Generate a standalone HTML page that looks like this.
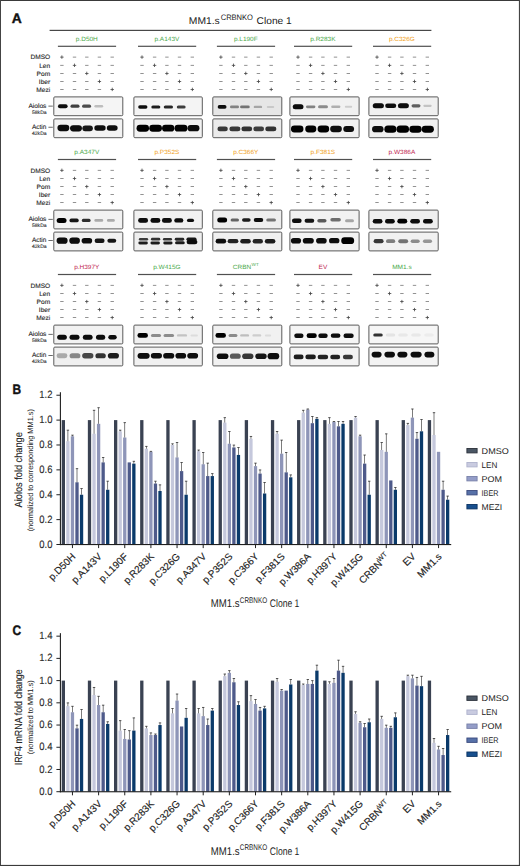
<!DOCTYPE html>
<html><head><meta charset="utf-8"><title>Figure</title>
<style>
html,body{margin:0;padding:0;background:#fff;}
body{width:520px;height:866px;overflow:hidden;}
svg{display:block;}
text{font-family:"Liberation Sans", sans-serif;text-rendering:geometricPrecision;}
</style></head><body>
<svg width="520" height="866" viewBox="0 0 520 866">
<rect x="0" y="0" width="520" height="866" fill="#fff"/>
<text x="11.8" y="23.1" font-size="13.8" font-weight="bold" textLength="10.0" lengthAdjust="spacingAndGlyphs" fill="#111" stroke="#111" stroke-width="0.4">A</text>
<text x="188.8" y="23.9" font-size="9.8" fill="#222" textLength="31" lengthAdjust="spacingAndGlyphs">MM1.s</text>
<text x="220.7" y="20.3" font-size="7.9" fill="#222" textLength="32.3" lengthAdjust="spacingAndGlyphs">CRBNKO</text>
<text x="256.6" y="23.9" font-size="9.8" fill="#222" textLength="35.2" lengthAdjust="spacingAndGlyphs">Clone 1</text>
<rect x="49.6" y="29.8" width="381.8" height="1.2" fill="#484848"/>
<defs><filter id="bl" x="-30%" y="-60%" width="160%" height="220%"><feGaussianBlur stdDeviation="0.55"/></filter></defs>
<text x="50.2" y="59.4" font-size="6.3" fill="#2a2a2a" stroke="#2a2a2a" stroke-width="0.12" text-anchor="end" textLength="19.8" lengthAdjust="spacingAndGlyphs">DMSO</text>
<text x="50.2" y="67.6" font-size="6.3" fill="#2a2a2a" stroke="#2a2a2a" stroke-width="0.12" text-anchor="end" textLength="11.0" lengthAdjust="spacingAndGlyphs">Len</text>
<text x="50.2" y="75.7" font-size="6.3" fill="#2a2a2a" stroke="#2a2a2a" stroke-width="0.12" text-anchor="end" textLength="13.6" lengthAdjust="spacingAndGlyphs">Pom</text>
<text x="50.2" y="83.7" font-size="6.3" fill="#2a2a2a" stroke="#2a2a2a" stroke-width="0.12" text-anchor="end" textLength="11.4" lengthAdjust="spacingAndGlyphs">Iber</text>
<text x="50.2" y="91.7" font-size="6.3" fill="#2a2a2a" stroke="#2a2a2a" stroke-width="0.12" text-anchor="end" textLength="13.9" lengthAdjust="spacingAndGlyphs">Mezi</text>
<text x="46.4" y="107.8" font-size="6.6" fill="#222" stroke="#222" stroke-width="0.1" text-anchor="end" textLength="18" lengthAdjust="spacingAndGlyphs">Aiolos</text>
<text x="46.6" y="113.9" font-size="5.1" fill="#2a2a2a" stroke="#2a2a2a" stroke-width="0.1" text-anchor="end" textLength="14.6" lengthAdjust="spacingAndGlyphs">58kDa</text>
<text x="46.4" y="128.6" font-size="6.6" fill="#222" stroke="#222" stroke-width="0.1" text-anchor="end" textLength="14.4" lengthAdjust="spacingAndGlyphs">Actin</text>
<text x="46.6" y="135.0" font-size="5.1" fill="#2a2a2a" stroke="#2a2a2a" stroke-width="0.1" text-anchor="end" textLength="14.6" lengthAdjust="spacingAndGlyphs">42kDa</text>
<rect x="48.4" y="105.7" width="4.4" height="0.8" fill="#444"/>
<rect x="48.4" y="126.8" width="4.4" height="0.8" fill="#444"/>
<text x="86.8" y="41.0" font-size="6.1" fill="#4aa84a" text-anchor="middle" textLength="22.0" lengthAdjust="spacingAndGlyphs">p.D50H</text>
<rect x="57.9" y="45.7" width="58.2" height="1.2" fill="#505050"/>
<rect x="60.2" y="56.7" width="3.4" height="0.8" fill="#444"/><rect x="61.5" y="55.4" width="0.8" height="3.4" fill="#444"/>
<rect x="72.8" y="56.7" width="3.4" height="0.8" fill="#777"/>
<rect x="85.1" y="56.7" width="3.4" height="0.8" fill="#777"/>
<rect x="97.7" y="56.7" width="3.4" height="0.8" fill="#777"/>
<rect x="110.5" y="56.7" width="3.4" height="0.8" fill="#777"/>
<rect x="60.2" y="64.9" width="3.4" height="0.8" fill="#777"/>
<rect x="72.8" y="64.9" width="3.4" height="0.8" fill="#444"/><rect x="74.1" y="63.6" width="0.8" height="3.4" fill="#444"/>
<rect x="85.1" y="64.9" width="3.4" height="0.8" fill="#777"/>
<rect x="97.7" y="64.9" width="3.4" height="0.8" fill="#777"/>
<rect x="110.5" y="64.9" width="3.4" height="0.8" fill="#777"/>
<rect x="60.2" y="73.0" width="3.4" height="0.8" fill="#777"/>
<rect x="72.8" y="73.0" width="3.4" height="0.8" fill="#777"/>
<rect x="85.1" y="73.0" width="3.4" height="0.8" fill="#444"/><rect x="86.4" y="71.7" width="0.8" height="3.4" fill="#444"/>
<rect x="97.7" y="73.0" width="3.4" height="0.8" fill="#777"/>
<rect x="110.5" y="73.0" width="3.4" height="0.8" fill="#777"/>
<rect x="60.2" y="81.0" width="3.4" height="0.8" fill="#777"/>
<rect x="72.8" y="81.0" width="3.4" height="0.8" fill="#777"/>
<rect x="85.1" y="81.0" width="3.4" height="0.8" fill="#777"/>
<rect x="97.7" y="81.0" width="3.4" height="0.8" fill="#444"/><rect x="99.0" y="79.7" width="0.8" height="3.4" fill="#444"/>
<rect x="110.5" y="81.0" width="3.4" height="0.8" fill="#777"/>
<rect x="60.2" y="89.0" width="3.4" height="0.8" fill="#777"/>
<rect x="72.8" y="89.0" width="3.4" height="0.8" fill="#777"/>
<rect x="85.1" y="89.0" width="3.4" height="0.8" fill="#777"/>
<rect x="97.7" y="89.0" width="3.4" height="0.8" fill="#777"/>
<rect x="110.5" y="89.0" width="3.4" height="0.8" fill="#444"/><rect x="111.8" y="87.7" width="0.8" height="3.4" fill="#444"/>
<rect x="53.8" y="96.9" width="69.0" height="18.8" rx="1" fill="#f5f5f5" stroke="#5a5a5a" stroke-width="1"/>
<rect x="53.8" y="118.9" width="69.0" height="18.8" rx="1" fill="#f3f3f3" stroke="#5a5a5a" stroke-width="1"/>
<rect x="57.97" y="104.20" width="9.66" height="4.00" rx="2.00" fill="#0a0a0a" filter="url(#bl)"/>
<rect x="70.48" y="104.60" width="9.03" height="3.20" rx="1.60" fill="#414141" filter="url(#bl)"/>
<rect x="82.08" y="104.60" width="9.03" height="3.20" rx="1.60" fill="#4b4b4b" filter="url(#bl)"/>
<rect x="94.39" y="104.90" width="8.82" height="2.60" rx="1.30" fill="#bebebe" filter="url(#bl)"/>
<rect x="57.46" y="124.86" width="11.88" height="6.27" rx="3.14" fill="#080808" filter="url(#bl)"/>
<rect x="70.06" y="125.16" width="11.88" height="6.27" rx="3.14" fill="#080808" filter="url(#bl)"/>
<rect x="82.31" y="125.39" width="10.58" height="5.82" rx="2.91" fill="#141414" filter="url(#bl)"/>
<rect x="94.33" y="125.20" width="11.34" height="5.60" rx="2.80" fill="#0c0c0c" filter="url(#bl)"/>
<rect x="106.80" y="125.20" width="10.80" height="5.60" rx="2.80" fill="#0c0c0c" filter="url(#bl)"/>
<text x="166.9" y="41.0" font-size="6.1" fill="#4aa84a" text-anchor="middle" textLength="24.9" lengthAdjust="spacingAndGlyphs">p.A143V</text>
<rect x="138.0" y="45.7" width="58.2" height="1.2" fill="#505050"/>
<rect x="140.3" y="56.7" width="3.4" height="0.8" fill="#444"/><rect x="141.6" y="55.4" width="0.8" height="3.4" fill="#444"/>
<rect x="152.9" y="56.7" width="3.4" height="0.8" fill="#777"/>
<rect x="165.2" y="56.7" width="3.4" height="0.8" fill="#777"/>
<rect x="177.8" y="56.7" width="3.4" height="0.8" fill="#777"/>
<rect x="190.6" y="56.7" width="3.4" height="0.8" fill="#777"/>
<rect x="140.3" y="64.9" width="3.4" height="0.8" fill="#777"/>
<rect x="152.9" y="64.9" width="3.4" height="0.8" fill="#444"/><rect x="154.2" y="63.6" width="0.8" height="3.4" fill="#444"/>
<rect x="165.2" y="64.9" width="3.4" height="0.8" fill="#777"/>
<rect x="177.8" y="64.9" width="3.4" height="0.8" fill="#777"/>
<rect x="190.6" y="64.9" width="3.4" height="0.8" fill="#777"/>
<rect x="140.3" y="73.0" width="3.4" height="0.8" fill="#777"/>
<rect x="152.9" y="73.0" width="3.4" height="0.8" fill="#777"/>
<rect x="165.2" y="73.0" width="3.4" height="0.8" fill="#444"/><rect x="166.5" y="71.7" width="0.8" height="3.4" fill="#444"/>
<rect x="177.8" y="73.0" width="3.4" height="0.8" fill="#777"/>
<rect x="190.6" y="73.0" width="3.4" height="0.8" fill="#777"/>
<rect x="140.3" y="81.0" width="3.4" height="0.8" fill="#777"/>
<rect x="152.9" y="81.0" width="3.4" height="0.8" fill="#777"/>
<rect x="165.2" y="81.0" width="3.4" height="0.8" fill="#777"/>
<rect x="177.8" y="81.0" width="3.4" height="0.8" fill="#444"/><rect x="179.1" y="79.7" width="0.8" height="3.4" fill="#444"/>
<rect x="190.6" y="81.0" width="3.4" height="0.8" fill="#777"/>
<rect x="140.3" y="89.0" width="3.4" height="0.8" fill="#777"/>
<rect x="152.9" y="89.0" width="3.4" height="0.8" fill="#777"/>
<rect x="165.2" y="89.0" width="3.4" height="0.8" fill="#777"/>
<rect x="177.8" y="89.0" width="3.4" height="0.8" fill="#777"/>
<rect x="190.6" y="89.0" width="3.4" height="0.8" fill="#444"/><rect x="191.9" y="87.7" width="0.8" height="3.4" fill="#444"/>
<rect x="133.9" y="96.9" width="68.4" height="18.8" rx="1" fill="#f4f4f4" stroke="#5a5a5a" stroke-width="1"/>
<rect x="133.9" y="118.9" width="68.4" height="18.8" rx="1" fill="#f2f2f2" stroke="#5a5a5a" stroke-width="1"/>
<rect x="138.18" y="105.30" width="9.24" height="3.40" rx="1.70" fill="#0f0f0f" filter="url(#bl)"/>
<rect x="151.29" y="105.40" width="9.03" height="3.20" rx="1.60" fill="#1e1e1e" filter="url(#bl)"/>
<rect x="163.78" y="105.40" width="9.24" height="3.20" rx="1.60" fill="#282828" filter="url(#bl)"/>
<rect x="176.79" y="105.50" width="8.82" height="3.00" rx="1.50" fill="#3c3c3c" filter="url(#bl)"/>
<rect x="136.54" y="124.73" width="12.53" height="6.94" rx="3.47" fill="#050505" filter="url(#bl)"/>
<rect x="149.23" y="124.73" width="12.74" height="6.94" rx="3.47" fill="#050505" filter="url(#bl)"/>
<rect x="162.04" y="124.84" width="12.31" height="6.72" rx="3.36" fill="#050505" filter="url(#bl)"/>
<rect x="174.52" y="124.84" width="12.96" height="6.72" rx="3.36" fill="#050505" filter="url(#bl)"/>
<rect x="187.56" y="125.06" width="11.88" height="6.27" rx="3.14" fill="#080808" filter="url(#bl)"/>
<text x="245.8" y="41.0" font-size="6.1" fill="#4aa84a" text-anchor="middle" textLength="23.8" lengthAdjust="spacingAndGlyphs">p.L190F</text>
<rect x="216.9" y="45.7" width="58.2" height="1.2" fill="#505050"/>
<rect x="219.2" y="56.7" width="3.4" height="0.8" fill="#444"/><rect x="220.5" y="55.4" width="0.8" height="3.4" fill="#444"/>
<rect x="231.8" y="56.7" width="3.4" height="0.8" fill="#777"/>
<rect x="244.1" y="56.7" width="3.4" height="0.8" fill="#777"/>
<rect x="256.7" y="56.7" width="3.4" height="0.8" fill="#777"/>
<rect x="269.5" y="56.7" width="3.4" height="0.8" fill="#777"/>
<rect x="219.2" y="64.9" width="3.4" height="0.8" fill="#777"/>
<rect x="231.8" y="64.9" width="3.4" height="0.8" fill="#444"/><rect x="233.1" y="63.6" width="0.8" height="3.4" fill="#444"/>
<rect x="244.1" y="64.9" width="3.4" height="0.8" fill="#777"/>
<rect x="256.7" y="64.9" width="3.4" height="0.8" fill="#777"/>
<rect x="269.5" y="64.9" width="3.4" height="0.8" fill="#777"/>
<rect x="219.2" y="73.0" width="3.4" height="0.8" fill="#777"/>
<rect x="231.8" y="73.0" width="3.4" height="0.8" fill="#777"/>
<rect x="244.1" y="73.0" width="3.4" height="0.8" fill="#444"/><rect x="245.4" y="71.7" width="0.8" height="3.4" fill="#444"/>
<rect x="256.7" y="73.0" width="3.4" height="0.8" fill="#777"/>
<rect x="269.5" y="73.0" width="3.4" height="0.8" fill="#777"/>
<rect x="219.2" y="81.0" width="3.4" height="0.8" fill="#777"/>
<rect x="231.8" y="81.0" width="3.4" height="0.8" fill="#777"/>
<rect x="244.1" y="81.0" width="3.4" height="0.8" fill="#777"/>
<rect x="256.7" y="81.0" width="3.4" height="0.8" fill="#444"/><rect x="258.0" y="79.7" width="0.8" height="3.4" fill="#444"/>
<rect x="269.5" y="81.0" width="3.4" height="0.8" fill="#777"/>
<rect x="219.2" y="89.0" width="3.4" height="0.8" fill="#777"/>
<rect x="231.8" y="89.0" width="3.4" height="0.8" fill="#777"/>
<rect x="244.1" y="89.0" width="3.4" height="0.8" fill="#777"/>
<rect x="256.7" y="89.0" width="3.4" height="0.8" fill="#777"/>
<rect x="269.5" y="89.0" width="3.4" height="0.8" fill="#444"/><rect x="270.8" y="87.7" width="0.8" height="3.4" fill="#444"/>
<rect x="212.8" y="96.9" width="69.0" height="18.8" rx="1" fill="#e6e6e6" stroke="#5a5a5a" stroke-width="1"/>
<rect x="212.8" y="118.9" width="69.0" height="18.8" rx="1" fill="#ebebeb" stroke="#5a5a5a" stroke-width="1"/>
<rect x="217.69" y="105.10" width="8.82" height="3.60" rx="1.80" fill="#0a0a0a" filter="url(#bl)"/>
<rect x="229.99" y="105.50" width="9.03" height="2.80" rx="1.40" fill="#828282" filter="url(#bl)"/>
<rect x="240.07" y="105.50" width="9.66" height="2.80" rx="1.40" fill="#737373" filter="url(#bl)"/>
<rect x="253.70" y="105.70" width="8.40" height="2.40" rx="1.20" fill="#a5a5a5" filter="url(#bl)"/>
<rect x="266.82" y="105.90" width="7.35" height="2.00" rx="1.00" fill="#c8c8c8" filter="url(#bl)"/>
<rect x="217.42" y="126.44" width="10.37" height="4.93" rx="2.46" fill="#373737" filter="url(#bl)"/>
<rect x="229.39" y="126.44" width="11.02" height="4.93" rx="2.46" fill="#373737" filter="url(#bl)"/>
<rect x="241.40" y="126.44" width="10.80" height="4.93" rx="2.46" fill="#323232" filter="url(#bl)"/>
<rect x="253.35" y="126.55" width="10.69" height="4.70" rx="2.35" fill="#3c3c3c" filter="url(#bl)"/>
<rect x="265.24" y="126.44" width="11.12" height="4.93" rx="2.46" fill="#323232" filter="url(#bl)"/>
<text x="322.9" y="41.0" font-size="6.1" fill="#4aa84a" text-anchor="middle" textLength="25.3" lengthAdjust="spacingAndGlyphs">p.R283K</text>
<rect x="294.0" y="45.7" width="58.2" height="1.2" fill="#505050"/>
<rect x="296.3" y="56.7" width="3.4" height="0.8" fill="#444"/><rect x="297.6" y="55.4" width="0.8" height="3.4" fill="#444"/>
<rect x="308.9" y="56.7" width="3.4" height="0.8" fill="#777"/>
<rect x="321.2" y="56.7" width="3.4" height="0.8" fill="#777"/>
<rect x="333.8" y="56.7" width="3.4" height="0.8" fill="#777"/>
<rect x="346.6" y="56.7" width="3.4" height="0.8" fill="#777"/>
<rect x="296.3" y="64.9" width="3.4" height="0.8" fill="#777"/>
<rect x="308.9" y="64.9" width="3.4" height="0.8" fill="#444"/><rect x="310.2" y="63.6" width="0.8" height="3.4" fill="#444"/>
<rect x="321.2" y="64.9" width="3.4" height="0.8" fill="#777"/>
<rect x="333.8" y="64.9" width="3.4" height="0.8" fill="#777"/>
<rect x="346.6" y="64.9" width="3.4" height="0.8" fill="#777"/>
<rect x="296.3" y="73.0" width="3.4" height="0.8" fill="#777"/>
<rect x="308.9" y="73.0" width="3.4" height="0.8" fill="#777"/>
<rect x="321.2" y="73.0" width="3.4" height="0.8" fill="#444"/><rect x="322.5" y="71.7" width="0.8" height="3.4" fill="#444"/>
<rect x="333.8" y="73.0" width="3.4" height="0.8" fill="#777"/>
<rect x="346.6" y="73.0" width="3.4" height="0.8" fill="#777"/>
<rect x="296.3" y="81.0" width="3.4" height="0.8" fill="#777"/>
<rect x="308.9" y="81.0" width="3.4" height="0.8" fill="#777"/>
<rect x="321.2" y="81.0" width="3.4" height="0.8" fill="#777"/>
<rect x="333.8" y="81.0" width="3.4" height="0.8" fill="#444"/><rect x="335.1" y="79.7" width="0.8" height="3.4" fill="#444"/>
<rect x="346.6" y="81.0" width="3.4" height="0.8" fill="#777"/>
<rect x="296.3" y="89.0" width="3.4" height="0.8" fill="#777"/>
<rect x="308.9" y="89.0" width="3.4" height="0.8" fill="#777"/>
<rect x="321.2" y="89.0" width="3.4" height="0.8" fill="#777"/>
<rect x="333.8" y="89.0" width="3.4" height="0.8" fill="#777"/>
<rect x="346.6" y="89.0" width="3.4" height="0.8" fill="#444"/><rect x="347.9" y="87.7" width="0.8" height="3.4" fill="#444"/>
<rect x="289.9" y="96.9" width="69.2" height="18.8" rx="1" fill="#f1f1f1" stroke="#5a5a5a" stroke-width="1"/>
<rect x="289.9" y="118.9" width="69.2" height="18.8" rx="1" fill="#f0f0f0" stroke="#5a5a5a" stroke-width="1"/>
<rect x="292.75" y="104.30" width="10.71" height="5.00" rx="2.50" fill="#080808" filter="url(#bl)"/>
<rect x="305.97" y="105.40" width="9.45" height="2.80" rx="1.40" fill="#828282" filter="url(#bl)"/>
<rect x="318.01" y="105.30" width="9.97" height="3.00" rx="1.50" fill="#8c8c8c" filter="url(#bl)"/>
<rect x="331.18" y="105.50" width="9.24" height="2.60" rx="1.30" fill="#afafaf" filter="url(#bl)"/>
<rect x="344.82" y="105.80" width="7.35" height="2.00" rx="1.00" fill="#cdcdcd" filter="url(#bl)"/>
<rect x="290.94" y="125.53" width="12.53" height="6.94" rx="3.47" fill="#050505" filter="url(#bl)"/>
<rect x="305.24" y="125.53" width="11.12" height="6.94" rx="3.47" fill="#050505" filter="url(#bl)"/>
<rect x="317.57" y="125.53" width="11.66" height="6.94" rx="3.47" fill="#050505" filter="url(#bl)"/>
<rect x="330.17" y="125.86" width="11.66" height="6.27" rx="3.14" fill="#080808" filter="url(#bl)"/>
<rect x="343.30" y="125.98" width="10.80" height="6.05" rx="3.02" fill="#0a0a0a" filter="url(#bl)"/>
<text x="401.9" y="41.0" font-size="6.1" fill="#f0a020" text-anchor="middle" textLength="26.0" lengthAdjust="spacingAndGlyphs">p.C326G</text>
<rect x="373.0" y="45.7" width="58.2" height="1.2" fill="#505050"/>
<rect x="375.3" y="56.7" width="3.4" height="0.8" fill="#444"/><rect x="376.6" y="55.4" width="0.8" height="3.4" fill="#444"/>
<rect x="387.9" y="56.7" width="3.4" height="0.8" fill="#777"/>
<rect x="400.2" y="56.7" width="3.4" height="0.8" fill="#777"/>
<rect x="412.8" y="56.7" width="3.4" height="0.8" fill="#777"/>
<rect x="425.6" y="56.7" width="3.4" height="0.8" fill="#777"/>
<rect x="375.3" y="64.9" width="3.4" height="0.8" fill="#777"/>
<rect x="387.9" y="64.9" width="3.4" height="0.8" fill="#444"/><rect x="389.2" y="63.6" width="0.8" height="3.4" fill="#444"/>
<rect x="400.2" y="64.9" width="3.4" height="0.8" fill="#777"/>
<rect x="412.8" y="64.9" width="3.4" height="0.8" fill="#777"/>
<rect x="425.6" y="64.9" width="3.4" height="0.8" fill="#777"/>
<rect x="375.3" y="73.0" width="3.4" height="0.8" fill="#777"/>
<rect x="387.9" y="73.0" width="3.4" height="0.8" fill="#777"/>
<rect x="400.2" y="73.0" width="3.4" height="0.8" fill="#444"/><rect x="401.5" y="71.7" width="0.8" height="3.4" fill="#444"/>
<rect x="412.8" y="73.0" width="3.4" height="0.8" fill="#777"/>
<rect x="425.6" y="73.0" width="3.4" height="0.8" fill="#777"/>
<rect x="375.3" y="81.0" width="3.4" height="0.8" fill="#777"/>
<rect x="387.9" y="81.0" width="3.4" height="0.8" fill="#777"/>
<rect x="400.2" y="81.0" width="3.4" height="0.8" fill="#777"/>
<rect x="412.8" y="81.0" width="3.4" height="0.8" fill="#444"/><rect x="414.1" y="79.7" width="0.8" height="3.4" fill="#444"/>
<rect x="425.6" y="81.0" width="3.4" height="0.8" fill="#777"/>
<rect x="375.3" y="89.0" width="3.4" height="0.8" fill="#777"/>
<rect x="387.9" y="89.0" width="3.4" height="0.8" fill="#777"/>
<rect x="400.2" y="89.0" width="3.4" height="0.8" fill="#777"/>
<rect x="412.8" y="89.0" width="3.4" height="0.8" fill="#777"/>
<rect x="425.6" y="89.0" width="3.4" height="0.8" fill="#444"/><rect x="426.9" y="87.7" width="0.8" height="3.4" fill="#444"/>
<rect x="368.9" y="96.9" width="69.3" height="18.8" rx="1" fill="#f0f0f0" stroke="#5a5a5a" stroke-width="1"/>
<rect x="368.9" y="118.9" width="69.3" height="18.8" rx="1" fill="#f0f0f0" stroke="#5a5a5a" stroke-width="1"/>
<rect x="372.74" y="103.30" width="11.13" height="5.00" rx="2.50" fill="#080808" filter="url(#bl)"/>
<rect x="385.19" y="103.50" width="11.03" height="4.60" rx="2.30" fill="#0f0f0f" filter="url(#bl)"/>
<rect x="397.94" y="103.30" width="10.92" height="5.00" rx="2.50" fill="#080808" filter="url(#bl)"/>
<rect x="411.54" y="104.20" width="8.93" height="3.20" rx="1.60" fill="#5f5f5f" filter="url(#bl)"/>
<rect x="423.30" y="104.70" width="8.40" height="2.20" rx="1.10" fill="#c3c3c3" filter="url(#bl)"/>
<rect x="372.08" y="126.06" width="11.45" height="6.27" rx="3.14" fill="#080808" filter="url(#bl)"/>
<rect x="384.35" y="125.62" width="12.10" height="7.17" rx="3.58" fill="#050505" filter="url(#bl)"/>
<rect x="396.54" y="125.62" width="12.53" height="7.17" rx="3.58" fill="#050505" filter="url(#bl)"/>
<rect x="409.34" y="125.73" width="12.31" height="6.94" rx="3.47" fill="#050505" filter="url(#bl)"/>
<rect x="421.70" y="125.73" width="12.20" height="6.94" rx="3.47" fill="#050505" filter="url(#bl)"/>
<text x="50.2" y="172.6" font-size="6.3" fill="#2a2a2a" stroke="#2a2a2a" stroke-width="0.12" text-anchor="end" textLength="19.8" lengthAdjust="spacingAndGlyphs">DMSO</text>
<text x="50.2" y="180.8" font-size="6.3" fill="#2a2a2a" stroke="#2a2a2a" stroke-width="0.12" text-anchor="end" textLength="11.0" lengthAdjust="spacingAndGlyphs">Len</text>
<text x="50.2" y="188.9" font-size="6.3" fill="#2a2a2a" stroke="#2a2a2a" stroke-width="0.12" text-anchor="end" textLength="13.6" lengthAdjust="spacingAndGlyphs">Pom</text>
<text x="50.2" y="196.9" font-size="6.3" fill="#2a2a2a" stroke="#2a2a2a" stroke-width="0.12" text-anchor="end" textLength="11.4" lengthAdjust="spacingAndGlyphs">Iber</text>
<text x="50.2" y="204.9" font-size="6.3" fill="#2a2a2a" stroke="#2a2a2a" stroke-width="0.12" text-anchor="end" textLength="13.9" lengthAdjust="spacingAndGlyphs">Mezi</text>
<text x="46.4" y="221.0" font-size="6.6" fill="#222" stroke="#222" stroke-width="0.1" text-anchor="end" textLength="18" lengthAdjust="spacingAndGlyphs">Aiolos</text>
<text x="46.6" y="227.1" font-size="5.1" fill="#2a2a2a" stroke="#2a2a2a" stroke-width="0.1" text-anchor="end" textLength="14.6" lengthAdjust="spacingAndGlyphs">58kDa</text>
<text x="46.4" y="241.8" font-size="6.6" fill="#222" stroke="#222" stroke-width="0.1" text-anchor="end" textLength="14.4" lengthAdjust="spacingAndGlyphs">Actin</text>
<text x="46.6" y="248.2" font-size="5.1" fill="#2a2a2a" stroke="#2a2a2a" stroke-width="0.1" text-anchor="end" textLength="14.6" lengthAdjust="spacingAndGlyphs">42kDa</text>
<rect x="48.4" y="218.9" width="4.4" height="0.8" fill="#444"/>
<rect x="48.4" y="240.0" width="4.4" height="0.8" fill="#444"/>
<text x="86.8" y="154.2" font-size="6.1" fill="#4aa84a" text-anchor="middle" textLength="24.9" lengthAdjust="spacingAndGlyphs">p.A347V</text>
<rect x="57.9" y="158.9" width="58.2" height="1.2" fill="#505050"/>
<rect x="60.2" y="169.9" width="3.4" height="0.8" fill="#444"/><rect x="61.5" y="168.6" width="0.8" height="3.4" fill="#444"/>
<rect x="72.8" y="169.9" width="3.4" height="0.8" fill="#777"/>
<rect x="85.1" y="169.9" width="3.4" height="0.8" fill="#777"/>
<rect x="97.7" y="169.9" width="3.4" height="0.8" fill="#777"/>
<rect x="110.5" y="169.9" width="3.4" height="0.8" fill="#777"/>
<rect x="60.2" y="178.1" width="3.4" height="0.8" fill="#777"/>
<rect x="72.8" y="178.1" width="3.4" height="0.8" fill="#444"/><rect x="74.1" y="176.8" width="0.8" height="3.4" fill="#444"/>
<rect x="85.1" y="178.1" width="3.4" height="0.8" fill="#777"/>
<rect x="97.7" y="178.1" width="3.4" height="0.8" fill="#777"/>
<rect x="110.5" y="178.1" width="3.4" height="0.8" fill="#777"/>
<rect x="60.2" y="186.2" width="3.4" height="0.8" fill="#777"/>
<rect x="72.8" y="186.2" width="3.4" height="0.8" fill="#777"/>
<rect x="85.1" y="186.2" width="3.4" height="0.8" fill="#444"/><rect x="86.4" y="184.9" width="0.8" height="3.4" fill="#444"/>
<rect x="97.7" y="186.2" width="3.4" height="0.8" fill="#777"/>
<rect x="110.5" y="186.2" width="3.4" height="0.8" fill="#777"/>
<rect x="60.2" y="194.2" width="3.4" height="0.8" fill="#777"/>
<rect x="72.8" y="194.2" width="3.4" height="0.8" fill="#777"/>
<rect x="85.1" y="194.2" width="3.4" height="0.8" fill="#777"/>
<rect x="97.7" y="194.2" width="3.4" height="0.8" fill="#444"/><rect x="99.0" y="192.9" width="0.8" height="3.4" fill="#444"/>
<rect x="110.5" y="194.2" width="3.4" height="0.8" fill="#777"/>
<rect x="60.2" y="202.2" width="3.4" height="0.8" fill="#777"/>
<rect x="72.8" y="202.2" width="3.4" height="0.8" fill="#777"/>
<rect x="85.1" y="202.2" width="3.4" height="0.8" fill="#777"/>
<rect x="97.7" y="202.2" width="3.4" height="0.8" fill="#777"/>
<rect x="110.5" y="202.2" width="3.4" height="0.8" fill="#444"/><rect x="111.8" y="200.9" width="0.8" height="3.4" fill="#444"/>
<rect x="53.8" y="210.1" width="69.0" height="18.8" rx="1" fill="#f2f2f2" stroke="#5a5a5a" stroke-width="1"/>
<rect x="53.8" y="232.1" width="69.0" height="18.8" rx="1" fill="#f2f2f2" stroke="#5a5a5a" stroke-width="1"/>
<rect x="56.66" y="217.90" width="9.87" height="5.00" rx="2.50" fill="#050505" filter="url(#bl)"/>
<rect x="69.48" y="218.50" width="9.24" height="3.80" rx="1.90" fill="#141414" filter="url(#bl)"/>
<rect x="81.79" y="218.80" width="8.82" height="3.20" rx="1.60" fill="#2d2d2d" filter="url(#bl)"/>
<rect x="94.39" y="219.10" width="8.82" height="2.60" rx="1.30" fill="#aaaaaa" filter="url(#bl)"/>
<rect x="106.96" y="219.10" width="7.88" height="2.60" rx="1.30" fill="#aaaaaa" filter="url(#bl)"/>
<rect x="56.59" y="237.56" width="11.02" height="6.27" rx="3.14" fill="#080808" filter="url(#bl)"/>
<rect x="69.31" y="237.56" width="10.58" height="6.27" rx="3.14" fill="#080808" filter="url(#bl)"/>
<rect x="81.61" y="237.90" width="10.58" height="5.60" rx="2.80" fill="#0f0f0f" filter="url(#bl)"/>
<rect x="94.63" y="238.46" width="9.94" height="4.48" rx="2.24" fill="#141414" filter="url(#bl)"/>
<rect x="107.37" y="238.68" width="8.86" height="4.03" rx="2.02" fill="#191919" filter="url(#bl)"/>
<text x="166.9" y="154.2" font-size="6.1" fill="#f0a020" text-anchor="middle" textLength="24.9" lengthAdjust="spacingAndGlyphs">p.P352S</text>
<rect x="138.0" y="158.9" width="58.2" height="1.2" fill="#505050"/>
<rect x="140.3" y="169.9" width="3.4" height="0.8" fill="#444"/><rect x="141.6" y="168.6" width="0.8" height="3.4" fill="#444"/>
<rect x="152.9" y="169.9" width="3.4" height="0.8" fill="#777"/>
<rect x="165.2" y="169.9" width="3.4" height="0.8" fill="#777"/>
<rect x="177.8" y="169.9" width="3.4" height="0.8" fill="#777"/>
<rect x="190.6" y="169.9" width="3.4" height="0.8" fill="#777"/>
<rect x="140.3" y="178.1" width="3.4" height="0.8" fill="#777"/>
<rect x="152.9" y="178.1" width="3.4" height="0.8" fill="#444"/><rect x="154.2" y="176.8" width="0.8" height="3.4" fill="#444"/>
<rect x="165.2" y="178.1" width="3.4" height="0.8" fill="#777"/>
<rect x="177.8" y="178.1" width="3.4" height="0.8" fill="#777"/>
<rect x="190.6" y="178.1" width="3.4" height="0.8" fill="#777"/>
<rect x="140.3" y="186.2" width="3.4" height="0.8" fill="#777"/>
<rect x="152.9" y="186.2" width="3.4" height="0.8" fill="#777"/>
<rect x="165.2" y="186.2" width="3.4" height="0.8" fill="#444"/><rect x="166.5" y="184.9" width="0.8" height="3.4" fill="#444"/>
<rect x="177.8" y="186.2" width="3.4" height="0.8" fill="#777"/>
<rect x="190.6" y="186.2" width="3.4" height="0.8" fill="#777"/>
<rect x="140.3" y="194.2" width="3.4" height="0.8" fill="#777"/>
<rect x="152.9" y="194.2" width="3.4" height="0.8" fill="#777"/>
<rect x="165.2" y="194.2" width="3.4" height="0.8" fill="#777"/>
<rect x="177.8" y="194.2" width="3.4" height="0.8" fill="#444"/><rect x="179.1" y="192.9" width="0.8" height="3.4" fill="#444"/>
<rect x="190.6" y="194.2" width="3.4" height="0.8" fill="#777"/>
<rect x="140.3" y="202.2" width="3.4" height="0.8" fill="#777"/>
<rect x="152.9" y="202.2" width="3.4" height="0.8" fill="#777"/>
<rect x="165.2" y="202.2" width="3.4" height="0.8" fill="#777"/>
<rect x="177.8" y="202.2" width="3.4" height="0.8" fill="#777"/>
<rect x="190.6" y="202.2" width="3.4" height="0.8" fill="#444"/><rect x="191.9" y="200.9" width="0.8" height="3.4" fill="#444"/>
<rect x="133.9" y="210.1" width="68.4" height="18.8" rx="1" fill="#f1f1f1" stroke="#5a5a5a" stroke-width="1"/>
<rect x="133.9" y="232.1" width="68.4" height="18.8" rx="1" fill="#efefef" stroke="#5a5a5a" stroke-width="1"/>
<rect x="138.16" y="218.10" width="9.87" height="4.60" rx="2.30" fill="#080808" filter="url(#bl)"/>
<rect x="150.47" y="218.10" width="9.87" height="4.60" rx="2.30" fill="#080808" filter="url(#bl)"/>
<rect x="161.97" y="218.10" width="9.87" height="4.60" rx="2.30" fill="#080808" filter="url(#bl)"/>
<rect x="174.29" y="218.20" width="9.03" height="4.40" rx="2.20" fill="#080808" filter="url(#bl)"/>
<rect x="186.93" y="218.70" width="7.14" height="3.40" rx="1.70" fill="#0c0c0c" filter="url(#bl)"/>
<rect x="138.86" y="237.97" width="9.29" height="2.46" rx="1.23" fill="#3c3c3c" filter="url(#bl)"/>
<rect x="150.96" y="237.86" width="9.29" height="2.69" rx="1.34" fill="#323232" filter="url(#bl)"/>
<rect x="162.96" y="237.97" width="9.07" height="2.46" rx="1.23" fill="#323232" filter="url(#bl)"/>
<rect x="174.75" y="237.74" width="9.50" height="2.91" rx="1.46" fill="#282828" filter="url(#bl)"/>
<rect x="186.42" y="237.52" width="10.15" height="3.36" rx="1.68" fill="#141414" filter="url(#bl)"/>
<rect x="138.35" y="241.54" width="9.50" height="2.91" rx="1.46" fill="#1e1e1e" filter="url(#bl)"/>
<rect x="150.45" y="241.54" width="9.50" height="2.91" rx="1.46" fill="#1e1e1e" filter="url(#bl)"/>
<rect x="163.26" y="241.54" width="9.29" height="2.91" rx="1.46" fill="#1e1e1e" filter="url(#bl)"/>
<rect x="175.04" y="241.13" width="9.72" height="3.14" rx="1.57" fill="#1e1e1e" filter="url(#bl)"/>
<rect x="186.60" y="239.65" width="10.80" height="4.70" rx="2.35" fill="#0a0a0a" filter="url(#bl)"/>
<text x="245.8" y="154.2" font-size="6.1" fill="#f0a020" text-anchor="middle" textLength="25.3" lengthAdjust="spacingAndGlyphs">p.C366Y</text>
<rect x="216.9" y="158.9" width="58.2" height="1.2" fill="#505050"/>
<rect x="219.2" y="169.9" width="3.4" height="0.8" fill="#444"/><rect x="220.5" y="168.6" width="0.8" height="3.4" fill="#444"/>
<rect x="231.8" y="169.9" width="3.4" height="0.8" fill="#777"/>
<rect x="244.1" y="169.9" width="3.4" height="0.8" fill="#777"/>
<rect x="256.7" y="169.9" width="3.4" height="0.8" fill="#777"/>
<rect x="269.5" y="169.9" width="3.4" height="0.8" fill="#777"/>
<rect x="219.2" y="178.1" width="3.4" height="0.8" fill="#777"/>
<rect x="231.8" y="178.1" width="3.4" height="0.8" fill="#444"/><rect x="233.1" y="176.8" width="0.8" height="3.4" fill="#444"/>
<rect x="244.1" y="178.1" width="3.4" height="0.8" fill="#777"/>
<rect x="256.7" y="178.1" width="3.4" height="0.8" fill="#777"/>
<rect x="269.5" y="178.1" width="3.4" height="0.8" fill="#777"/>
<rect x="219.2" y="186.2" width="3.4" height="0.8" fill="#777"/>
<rect x="231.8" y="186.2" width="3.4" height="0.8" fill="#777"/>
<rect x="244.1" y="186.2" width="3.4" height="0.8" fill="#444"/><rect x="245.4" y="184.9" width="0.8" height="3.4" fill="#444"/>
<rect x="256.7" y="186.2" width="3.4" height="0.8" fill="#777"/>
<rect x="269.5" y="186.2" width="3.4" height="0.8" fill="#777"/>
<rect x="219.2" y="194.2" width="3.4" height="0.8" fill="#777"/>
<rect x="231.8" y="194.2" width="3.4" height="0.8" fill="#777"/>
<rect x="244.1" y="194.2" width="3.4" height="0.8" fill="#777"/>
<rect x="256.7" y="194.2" width="3.4" height="0.8" fill="#444"/><rect x="258.0" y="192.9" width="0.8" height="3.4" fill="#444"/>
<rect x="269.5" y="194.2" width="3.4" height="0.8" fill="#777"/>
<rect x="219.2" y="202.2" width="3.4" height="0.8" fill="#777"/>
<rect x="231.8" y="202.2" width="3.4" height="0.8" fill="#777"/>
<rect x="244.1" y="202.2" width="3.4" height="0.8" fill="#777"/>
<rect x="256.7" y="202.2" width="3.4" height="0.8" fill="#777"/>
<rect x="269.5" y="202.2" width="3.4" height="0.8" fill="#444"/><rect x="270.8" y="200.9" width="0.8" height="3.4" fill="#444"/>
<rect x="212.8" y="210.1" width="69.0" height="18.8" rx="1" fill="#eeeeee" stroke="#5a5a5a" stroke-width="1"/>
<rect x="212.8" y="232.1" width="69.0" height="18.8" rx="1" fill="#f0f0f0" stroke="#5a5a5a" stroke-width="1"/>
<rect x="217.26" y="217.50" width="9.87" height="5.00" rx="2.50" fill="#050505" filter="url(#bl)"/>
<rect x="230.60" y="218.50" width="8.40" height="3.00" rx="1.50" fill="#646464" filter="url(#bl)"/>
<rect x="242.00" y="218.20" width="8.61" height="3.60" rx="1.80" fill="#1e1e1e" filter="url(#bl)"/>
<rect x="253.78" y="218.00" width="9.45" height="4.00" rx="2.00" fill="#0a0a0a" filter="url(#bl)"/>
<rect x="266.27" y="218.50" width="9.66" height="3.00" rx="1.50" fill="#737373" filter="url(#bl)"/>
<rect x="215.61" y="238.85" width="10.58" height="4.70" rx="2.35" fill="#0f0f0f" filter="url(#bl)"/>
<rect x="227.60" y="239.07" width="10.80" height="4.26" rx="2.13" fill="#232323" filter="url(#bl)"/>
<rect x="240.21" y="238.96" width="10.58" height="4.48" rx="2.24" fill="#1e1e1e" filter="url(#bl)"/>
<rect x="252.62" y="238.96" width="10.37" height="4.48" rx="2.24" fill="#282828" filter="url(#bl)"/>
<rect x="264.81" y="238.96" width="10.58" height="4.48" rx="2.24" fill="#1e1e1e" filter="url(#bl)"/>
<text x="322.9" y="154.2" font-size="6.1" fill="#f0a020" text-anchor="middle" textLength="24.6" lengthAdjust="spacingAndGlyphs">p.F381S</text>
<rect x="294.0" y="158.9" width="58.2" height="1.2" fill="#505050"/>
<rect x="296.3" y="169.9" width="3.4" height="0.8" fill="#444"/><rect x="297.6" y="168.6" width="0.8" height="3.4" fill="#444"/>
<rect x="308.9" y="169.9" width="3.4" height="0.8" fill="#777"/>
<rect x="321.2" y="169.9" width="3.4" height="0.8" fill="#777"/>
<rect x="333.8" y="169.9" width="3.4" height="0.8" fill="#777"/>
<rect x="346.6" y="169.9" width="3.4" height="0.8" fill="#777"/>
<rect x="296.3" y="178.1" width="3.4" height="0.8" fill="#777"/>
<rect x="308.9" y="178.1" width="3.4" height="0.8" fill="#444"/><rect x="310.2" y="176.8" width="0.8" height="3.4" fill="#444"/>
<rect x="321.2" y="178.1" width="3.4" height="0.8" fill="#777"/>
<rect x="333.8" y="178.1" width="3.4" height="0.8" fill="#777"/>
<rect x="346.6" y="178.1" width="3.4" height="0.8" fill="#777"/>
<rect x="296.3" y="186.2" width="3.4" height="0.8" fill="#777"/>
<rect x="308.9" y="186.2" width="3.4" height="0.8" fill="#777"/>
<rect x="321.2" y="186.2" width="3.4" height="0.8" fill="#444"/><rect x="322.5" y="184.9" width="0.8" height="3.4" fill="#444"/>
<rect x="333.8" y="186.2" width="3.4" height="0.8" fill="#777"/>
<rect x="346.6" y="186.2" width="3.4" height="0.8" fill="#777"/>
<rect x="296.3" y="194.2" width="3.4" height="0.8" fill="#777"/>
<rect x="308.9" y="194.2" width="3.4" height="0.8" fill="#777"/>
<rect x="321.2" y="194.2" width="3.4" height="0.8" fill="#777"/>
<rect x="333.8" y="194.2" width="3.4" height="0.8" fill="#444"/><rect x="335.1" y="192.9" width="0.8" height="3.4" fill="#444"/>
<rect x="346.6" y="194.2" width="3.4" height="0.8" fill="#777"/>
<rect x="296.3" y="202.2" width="3.4" height="0.8" fill="#777"/>
<rect x="308.9" y="202.2" width="3.4" height="0.8" fill="#777"/>
<rect x="321.2" y="202.2" width="3.4" height="0.8" fill="#777"/>
<rect x="333.8" y="202.2" width="3.4" height="0.8" fill="#777"/>
<rect x="346.6" y="202.2" width="3.4" height="0.8" fill="#444"/><rect x="347.9" y="200.9" width="0.8" height="3.4" fill="#444"/>
<rect x="289.9" y="210.1" width="69.2" height="18.8" rx="1" fill="#f2f2f2" stroke="#5a5a5a" stroke-width="1"/>
<rect x="289.9" y="232.1" width="69.2" height="18.8" rx="1" fill="#f2f2f2" stroke="#5a5a5a" stroke-width="1"/>
<rect x="291.97" y="218.50" width="9.66" height="4.60" rx="2.30" fill="#080808" filter="url(#bl)"/>
<rect x="304.57" y="218.80" width="9.66" height="4.00" rx="2.00" fill="#141414" filter="url(#bl)"/>
<rect x="317.28" y="219.00" width="9.24" height="3.60" rx="1.80" fill="#5a5a5a" filter="url(#bl)"/>
<rect x="330.35" y="218.10" width="10.50" height="3.40" rx="1.70" fill="#6e6e6e" filter="url(#bl)"/>
<rect x="345.04" y="219.30" width="8.93" height="3.00" rx="1.50" fill="#a5a5a5" filter="url(#bl)"/>
<rect x="290.92" y="237.90" width="10.15" height="5.60" rx="2.80" fill="#080808" filter="url(#bl)"/>
<rect x="302.79" y="237.90" width="11.02" height="5.60" rx="2.80" fill="#080808" filter="url(#bl)"/>
<rect x="316.11" y="237.90" width="10.58" height="5.60" rx="2.80" fill="#080808" filter="url(#bl)"/>
<rect x="329.02" y="238.12" width="10.37" height="5.15" rx="2.58" fill="#080808" filter="url(#bl)"/>
<rect x="341.22" y="237.34" width="12.96" height="6.72" rx="3.36" fill="#050505" filter="url(#bl)"/>
<text x="401.9" y="154.2" font-size="6.1" fill="#c0264f" text-anchor="middle" textLength="26.7" lengthAdjust="spacingAndGlyphs">p.W386A</text>
<rect x="373.0" y="158.9" width="58.2" height="1.2" fill="#505050"/>
<rect x="375.3" y="169.9" width="3.4" height="0.8" fill="#444"/><rect x="376.6" y="168.6" width="0.8" height="3.4" fill="#444"/>
<rect x="387.9" y="169.9" width="3.4" height="0.8" fill="#777"/>
<rect x="400.2" y="169.9" width="3.4" height="0.8" fill="#777"/>
<rect x="412.8" y="169.9" width="3.4" height="0.8" fill="#777"/>
<rect x="425.6" y="169.9" width="3.4" height="0.8" fill="#777"/>
<rect x="375.3" y="178.1" width="3.4" height="0.8" fill="#777"/>
<rect x="387.9" y="178.1" width="3.4" height="0.8" fill="#444"/><rect x="389.2" y="176.8" width="0.8" height="3.4" fill="#444"/>
<rect x="400.2" y="178.1" width="3.4" height="0.8" fill="#777"/>
<rect x="412.8" y="178.1" width="3.4" height="0.8" fill="#777"/>
<rect x="425.6" y="178.1" width="3.4" height="0.8" fill="#777"/>
<rect x="375.3" y="186.2" width="3.4" height="0.8" fill="#777"/>
<rect x="387.9" y="186.2" width="3.4" height="0.8" fill="#777"/>
<rect x="400.2" y="186.2" width="3.4" height="0.8" fill="#444"/><rect x="401.5" y="184.9" width="0.8" height="3.4" fill="#444"/>
<rect x="412.8" y="186.2" width="3.4" height="0.8" fill="#777"/>
<rect x="425.6" y="186.2" width="3.4" height="0.8" fill="#777"/>
<rect x="375.3" y="194.2" width="3.4" height="0.8" fill="#777"/>
<rect x="387.9" y="194.2" width="3.4" height="0.8" fill="#777"/>
<rect x="400.2" y="194.2" width="3.4" height="0.8" fill="#777"/>
<rect x="412.8" y="194.2" width="3.4" height="0.8" fill="#444"/><rect x="414.1" y="192.9" width="0.8" height="3.4" fill="#444"/>
<rect x="425.6" y="194.2" width="3.4" height="0.8" fill="#777"/>
<rect x="375.3" y="202.2" width="3.4" height="0.8" fill="#777"/>
<rect x="387.9" y="202.2" width="3.4" height="0.8" fill="#777"/>
<rect x="400.2" y="202.2" width="3.4" height="0.8" fill="#777"/>
<rect x="412.8" y="202.2" width="3.4" height="0.8" fill="#777"/>
<rect x="425.6" y="202.2" width="3.4" height="0.8" fill="#444"/><rect x="426.9" y="200.9" width="0.8" height="3.4" fill="#444"/>
<rect x="368.9" y="210.1" width="69.3" height="18.8" rx="1" fill="#efefef" stroke="#5a5a5a" stroke-width="1"/>
<rect x="368.9" y="232.1" width="69.3" height="18.8" rx="1" fill="#f1f1f1" stroke="#5a5a5a" stroke-width="1"/>
<rect x="372.72" y="218.90" width="9.77" height="4.60" rx="2.30" fill="#080808" filter="url(#bl)"/>
<rect x="385.02" y="218.90" width="9.77" height="4.60" rx="2.30" fill="#080808" filter="url(#bl)"/>
<rect x="397.31" y="218.80" width="9.97" height="4.80" rx="2.40" fill="#050505" filter="url(#bl)"/>
<rect x="410.27" y="219.00" width="9.66" height="4.40" rx="2.20" fill="#080808" filter="url(#bl)"/>
<rect x="423.02" y="219.00" width="9.77" height="4.40" rx="2.20" fill="#080808" filter="url(#bl)"/>
<rect x="373.63" y="239.07" width="9.94" height="4.26" rx="2.13" fill="#373737" filter="url(#bl)"/>
<rect x="386.01" y="239.30" width="9.18" height="3.81" rx="1.90" fill="#7d7d7d" filter="url(#bl)"/>
<rect x="398.23" y="239.18" width="9.94" height="4.03" rx="2.02" fill="#737373" filter="url(#bl)"/>
<rect x="410.66" y="239.41" width="9.07" height="3.58" rx="1.79" fill="#8c8c8c" filter="url(#bl)"/>
<rect x="422.91" y="239.41" width="9.18" height="3.58" rx="1.79" fill="#969696" filter="url(#bl)"/>
<text x="50.2" y="287.6" font-size="6.3" fill="#2a2a2a" stroke="#2a2a2a" stroke-width="0.12" text-anchor="end" textLength="19.8" lengthAdjust="spacingAndGlyphs">DMSO</text>
<text x="50.2" y="295.8" font-size="6.3" fill="#2a2a2a" stroke="#2a2a2a" stroke-width="0.12" text-anchor="end" textLength="11.0" lengthAdjust="spacingAndGlyphs">Len</text>
<text x="50.2" y="303.9" font-size="6.3" fill="#2a2a2a" stroke="#2a2a2a" stroke-width="0.12" text-anchor="end" textLength="13.6" lengthAdjust="spacingAndGlyphs">Pom</text>
<text x="50.2" y="311.9" font-size="6.3" fill="#2a2a2a" stroke="#2a2a2a" stroke-width="0.12" text-anchor="end" textLength="11.4" lengthAdjust="spacingAndGlyphs">Iber</text>
<text x="50.2" y="319.9" font-size="6.3" fill="#2a2a2a" stroke="#2a2a2a" stroke-width="0.12" text-anchor="end" textLength="13.9" lengthAdjust="spacingAndGlyphs">Mezi</text>
<text x="46.4" y="336.0" font-size="6.6" fill="#222" stroke="#222" stroke-width="0.1" text-anchor="end" textLength="18" lengthAdjust="spacingAndGlyphs">Aiolos</text>
<text x="46.6" y="342.1" font-size="5.1" fill="#2a2a2a" stroke="#2a2a2a" stroke-width="0.1" text-anchor="end" textLength="14.6" lengthAdjust="spacingAndGlyphs">58kDa</text>
<text x="46.4" y="356.8" font-size="6.6" fill="#222" stroke="#222" stroke-width="0.1" text-anchor="end" textLength="14.4" lengthAdjust="spacingAndGlyphs">Actin</text>
<text x="46.6" y="363.2" font-size="5.1" fill="#2a2a2a" stroke="#2a2a2a" stroke-width="0.1" text-anchor="end" textLength="14.6" lengthAdjust="spacingAndGlyphs">42kDa</text>
<rect x="48.4" y="333.9" width="4.4" height="0.8" fill="#444"/>
<rect x="48.4" y="355.0" width="4.4" height="0.8" fill="#444"/>
<text x="86.8" y="269.2" font-size="6.1" fill="#c0264f" text-anchor="middle" textLength="25.3" lengthAdjust="spacingAndGlyphs">p.H397Y</text>
<rect x="57.9" y="273.9" width="58.2" height="1.2" fill="#505050"/>
<rect x="60.2" y="284.9" width="3.4" height="0.8" fill="#444"/><rect x="61.5" y="283.6" width="0.8" height="3.4" fill="#444"/>
<rect x="72.8" y="284.9" width="3.4" height="0.8" fill="#777"/>
<rect x="85.1" y="284.9" width="3.4" height="0.8" fill="#777"/>
<rect x="97.7" y="284.9" width="3.4" height="0.8" fill="#777"/>
<rect x="110.5" y="284.9" width="3.4" height="0.8" fill="#777"/>
<rect x="60.2" y="293.1" width="3.4" height="0.8" fill="#777"/>
<rect x="72.8" y="293.1" width="3.4" height="0.8" fill="#444"/><rect x="74.1" y="291.8" width="0.8" height="3.4" fill="#444"/>
<rect x="85.1" y="293.1" width="3.4" height="0.8" fill="#777"/>
<rect x="97.7" y="293.1" width="3.4" height="0.8" fill="#777"/>
<rect x="110.5" y="293.1" width="3.4" height="0.8" fill="#777"/>
<rect x="60.2" y="301.2" width="3.4" height="0.8" fill="#777"/>
<rect x="72.8" y="301.2" width="3.4" height="0.8" fill="#777"/>
<rect x="85.1" y="301.2" width="3.4" height="0.8" fill="#444"/><rect x="86.4" y="299.9" width="0.8" height="3.4" fill="#444"/>
<rect x="97.7" y="301.2" width="3.4" height="0.8" fill="#777"/>
<rect x="110.5" y="301.2" width="3.4" height="0.8" fill="#777"/>
<rect x="60.2" y="309.2" width="3.4" height="0.8" fill="#777"/>
<rect x="72.8" y="309.2" width="3.4" height="0.8" fill="#777"/>
<rect x="85.1" y="309.2" width="3.4" height="0.8" fill="#777"/>
<rect x="97.7" y="309.2" width="3.4" height="0.8" fill="#444"/><rect x="99.0" y="307.9" width="0.8" height="3.4" fill="#444"/>
<rect x="110.5" y="309.2" width="3.4" height="0.8" fill="#777"/>
<rect x="60.2" y="317.2" width="3.4" height="0.8" fill="#777"/>
<rect x="72.8" y="317.2" width="3.4" height="0.8" fill="#777"/>
<rect x="85.1" y="317.2" width="3.4" height="0.8" fill="#777"/>
<rect x="97.7" y="317.2" width="3.4" height="0.8" fill="#777"/>
<rect x="110.5" y="317.2" width="3.4" height="0.8" fill="#444"/><rect x="111.8" y="315.9" width="0.8" height="3.4" fill="#444"/>
<rect x="53.8" y="325.1" width="69.0" height="18.8" rx="1" fill="#f2f2f2" stroke="#5a5a5a" stroke-width="1"/>
<rect x="53.8" y="347.1" width="69.0" height="18.8" rx="1" fill="#f0f0f0" stroke="#5a5a5a" stroke-width="1"/>
<rect x="57.17" y="334.70" width="9.66" height="5.00" rx="2.50" fill="#080808" filter="url(#bl)"/>
<rect x="69.51" y="334.70" width="9.97" height="5.00" rx="2.50" fill="#080808" filter="url(#bl)"/>
<rect x="82.82" y="334.70" width="9.77" height="5.00" rx="2.50" fill="#080808" filter="url(#bl)"/>
<rect x="95.98" y="334.70" width="9.24" height="5.00" rx="2.50" fill="#080808" filter="url(#bl)"/>
<rect x="108.30" y="334.90" width="8.40" height="4.60" rx="2.30" fill="#080808" filter="url(#bl)"/>
<rect x="56.60" y="353.34" width="10.80" height="4.93" rx="2.46" fill="#aaaaaa" filter="url(#bl)"/>
<rect x="69.60" y="353.22" width="10.80" height="5.15" rx="2.58" fill="#878787" filter="url(#bl)"/>
<rect x="82.18" y="353.11" width="11.23" height="5.38" rx="2.69" fill="#464646" filter="url(#bl)"/>
<rect x="95.42" y="353.22" width="10.37" height="5.15" rx="2.58" fill="#323232" filter="url(#bl)"/>
<rect x="107.84" y="353.00" width="11.12" height="5.60" rx="2.80" fill="#1e1e1e" filter="url(#bl)"/>
<text x="166.9" y="269.2" font-size="6.1" fill="#4aa84a" text-anchor="middle" textLength="27.5" lengthAdjust="spacingAndGlyphs">p.W415G</text>
<rect x="138.0" y="273.9" width="58.2" height="1.2" fill="#505050"/>
<rect x="140.3" y="284.9" width="3.4" height="0.8" fill="#444"/><rect x="141.6" y="283.6" width="0.8" height="3.4" fill="#444"/>
<rect x="152.9" y="284.9" width="3.4" height="0.8" fill="#777"/>
<rect x="165.2" y="284.9" width="3.4" height="0.8" fill="#777"/>
<rect x="177.8" y="284.9" width="3.4" height="0.8" fill="#777"/>
<rect x="190.6" y="284.9" width="3.4" height="0.8" fill="#777"/>
<rect x="140.3" y="293.1" width="3.4" height="0.8" fill="#777"/>
<rect x="152.9" y="293.1" width="3.4" height="0.8" fill="#444"/><rect x="154.2" y="291.8" width="0.8" height="3.4" fill="#444"/>
<rect x="165.2" y="293.1" width="3.4" height="0.8" fill="#777"/>
<rect x="177.8" y="293.1" width="3.4" height="0.8" fill="#777"/>
<rect x="190.6" y="293.1" width="3.4" height="0.8" fill="#777"/>
<rect x="140.3" y="301.2" width="3.4" height="0.8" fill="#777"/>
<rect x="152.9" y="301.2" width="3.4" height="0.8" fill="#777"/>
<rect x="165.2" y="301.2" width="3.4" height="0.8" fill="#444"/><rect x="166.5" y="299.9" width="0.8" height="3.4" fill="#444"/>
<rect x="177.8" y="301.2" width="3.4" height="0.8" fill="#777"/>
<rect x="190.6" y="301.2" width="3.4" height="0.8" fill="#777"/>
<rect x="140.3" y="309.2" width="3.4" height="0.8" fill="#777"/>
<rect x="152.9" y="309.2" width="3.4" height="0.8" fill="#777"/>
<rect x="165.2" y="309.2" width="3.4" height="0.8" fill="#777"/>
<rect x="177.8" y="309.2" width="3.4" height="0.8" fill="#444"/><rect x="179.1" y="307.9" width="0.8" height="3.4" fill="#444"/>
<rect x="190.6" y="309.2" width="3.4" height="0.8" fill="#777"/>
<rect x="140.3" y="317.2" width="3.4" height="0.8" fill="#777"/>
<rect x="152.9" y="317.2" width="3.4" height="0.8" fill="#777"/>
<rect x="165.2" y="317.2" width="3.4" height="0.8" fill="#777"/>
<rect x="177.8" y="317.2" width="3.4" height="0.8" fill="#777"/>
<rect x="190.6" y="317.2" width="3.4" height="0.8" fill="#444"/><rect x="191.9" y="315.9" width="0.8" height="3.4" fill="#444"/>
<rect x="133.9" y="325.1" width="68.4" height="18.8" rx="1" fill="#f0f0f0" stroke="#5a5a5a" stroke-width="1"/>
<rect x="133.9" y="347.1" width="68.4" height="18.8" rx="1" fill="#f1f1f1" stroke="#5a5a5a" stroke-width="1"/>
<rect x="137.45" y="333.10" width="10.50" height="4.60" rx="2.30" fill="#050505" filter="url(#bl)"/>
<rect x="150.96" y="333.90" width="10.08" height="3.00" rx="1.50" fill="#8c8c8c" filter="url(#bl)"/>
<rect x="163.55" y="333.90" width="10.50" height="3.00" rx="1.50" fill="#8c8c8c" filter="url(#bl)"/>
<rect x="176.96" y="334.20" width="10.08" height="2.40" rx="1.20" fill="#c3c3c3" filter="url(#bl)"/>
<rect x="190.52" y="334.40" width="7.35" height="2.00" rx="1.00" fill="#dcdcdc" filter="url(#bl)"/>
<rect x="137.55" y="352.89" width="12.10" height="5.82" rx="2.91" fill="#080808" filter="url(#bl)"/>
<rect x="150.84" y="353.11" width="11.12" height="5.38" rx="2.69" fill="#0c0c0c" filter="url(#bl)"/>
<rect x="163.14" y="353.00" width="11.12" height="5.60" rx="2.80" fill="#0c0c0c" filter="url(#bl)"/>
<rect x="175.45" y="353.00" width="10.69" height="5.60" rx="2.80" fill="#080808" filter="url(#bl)"/>
<rect x="187.30" y="353.00" width="10.80" height="5.60" rx="2.80" fill="#080808" filter="url(#bl)"/>
<text x="232.8" y="269.2" font-size="6.1" fill="#4aa84a" textLength="18.4" lengthAdjust="spacingAndGlyphs">CRBN</text>
<text x="251.6" y="266.4" font-size="4.4" fill="#4aa84a" textLength="7.2" lengthAdjust="spacingAndGlyphs">WT</text>
<rect x="216.9" y="273.9" width="58.2" height="1.2" fill="#505050"/>
<rect x="219.2" y="284.9" width="3.4" height="0.8" fill="#444"/><rect x="220.5" y="283.6" width="0.8" height="3.4" fill="#444"/>
<rect x="231.8" y="284.9" width="3.4" height="0.8" fill="#777"/>
<rect x="244.1" y="284.9" width="3.4" height="0.8" fill="#777"/>
<rect x="256.7" y="284.9" width="3.4" height="0.8" fill="#777"/>
<rect x="269.5" y="284.9" width="3.4" height="0.8" fill="#777"/>
<rect x="219.2" y="293.1" width="3.4" height="0.8" fill="#777"/>
<rect x="231.8" y="293.1" width="3.4" height="0.8" fill="#444"/><rect x="233.1" y="291.8" width="0.8" height="3.4" fill="#444"/>
<rect x="244.1" y="293.1" width="3.4" height="0.8" fill="#777"/>
<rect x="256.7" y="293.1" width="3.4" height="0.8" fill="#777"/>
<rect x="269.5" y="293.1" width="3.4" height="0.8" fill="#777"/>
<rect x="219.2" y="301.2" width="3.4" height="0.8" fill="#777"/>
<rect x="231.8" y="301.2" width="3.4" height="0.8" fill="#777"/>
<rect x="244.1" y="301.2" width="3.4" height="0.8" fill="#444"/><rect x="245.4" y="299.9" width="0.8" height="3.4" fill="#444"/>
<rect x="256.7" y="301.2" width="3.4" height="0.8" fill="#777"/>
<rect x="269.5" y="301.2" width="3.4" height="0.8" fill="#777"/>
<rect x="219.2" y="309.2" width="3.4" height="0.8" fill="#777"/>
<rect x="231.8" y="309.2" width="3.4" height="0.8" fill="#777"/>
<rect x="244.1" y="309.2" width="3.4" height="0.8" fill="#777"/>
<rect x="256.7" y="309.2" width="3.4" height="0.8" fill="#444"/><rect x="258.0" y="307.9" width="0.8" height="3.4" fill="#444"/>
<rect x="269.5" y="309.2" width="3.4" height="0.8" fill="#777"/>
<rect x="219.2" y="317.2" width="3.4" height="0.8" fill="#777"/>
<rect x="231.8" y="317.2" width="3.4" height="0.8" fill="#777"/>
<rect x="244.1" y="317.2" width="3.4" height="0.8" fill="#777"/>
<rect x="256.7" y="317.2" width="3.4" height="0.8" fill="#777"/>
<rect x="269.5" y="317.2" width="3.4" height="0.8" fill="#444"/><rect x="270.8" y="315.9" width="0.8" height="3.4" fill="#444"/>
<rect x="212.8" y="325.1" width="69.0" height="18.8" rx="1" fill="#f1f1f1" stroke="#5a5a5a" stroke-width="1"/>
<rect x="212.8" y="347.1" width="69.0" height="18.8" rx="1" fill="#f1f1f1" stroke="#5a5a5a" stroke-width="1"/>
<rect x="215.45" y="333.10" width="10.50" height="4.60" rx="2.30" fill="#050505" filter="url(#bl)"/>
<rect x="228.59" y="333.90" width="8.82" height="3.00" rx="1.50" fill="#8c8c8c" filter="url(#bl)"/>
<rect x="240.14" y="334.20" width="8.93" height="2.40" rx="1.20" fill="#bebebe" filter="url(#bl)"/>
<rect x="252.39" y="334.20" width="8.82" height="2.40" rx="1.20" fill="#cdcdcd" filter="url(#bl)"/>
<rect x="264.85" y="334.40" width="6.30" height="2.00" rx="1.00" fill="#dcdcdc" filter="url(#bl)"/>
<rect x="216.77" y="353.40" width="11.66" height="5.60" rx="2.80" fill="#0f0f0f" filter="url(#bl)"/>
<rect x="229.90" y="353.62" width="10.80" height="5.15" rx="2.58" fill="#5a5a5a" filter="url(#bl)"/>
<rect x="242.18" y="353.40" width="11.23" height="5.60" rx="2.80" fill="#373737" filter="url(#bl)"/>
<rect x="255.33" y="353.40" width="11.34" height="5.60" rx="2.80" fill="#191919" filter="url(#bl)"/>
<rect x="267.57" y="353.06" width="11.66" height="6.27" rx="3.14" fill="#080808" filter="url(#bl)"/>
<text x="322.9" y="269.2" font-size="6.1" fill="#c0264f" text-anchor="middle" textLength="8.7" lengthAdjust="spacingAndGlyphs">EV</text>
<rect x="294.0" y="273.9" width="58.2" height="1.2" fill="#505050"/>
<rect x="296.3" y="284.9" width="3.4" height="0.8" fill="#444"/><rect x="297.6" y="283.6" width="0.8" height="3.4" fill="#444"/>
<rect x="308.9" y="284.9" width="3.4" height="0.8" fill="#777"/>
<rect x="321.2" y="284.9" width="3.4" height="0.8" fill="#777"/>
<rect x="333.8" y="284.9" width="3.4" height="0.8" fill="#777"/>
<rect x="346.6" y="284.9" width="3.4" height="0.8" fill="#777"/>
<rect x="296.3" y="293.1" width="3.4" height="0.8" fill="#777"/>
<rect x="308.9" y="293.1" width="3.4" height="0.8" fill="#444"/><rect x="310.2" y="291.8" width="0.8" height="3.4" fill="#444"/>
<rect x="321.2" y="293.1" width="3.4" height="0.8" fill="#777"/>
<rect x="333.8" y="293.1" width="3.4" height="0.8" fill="#777"/>
<rect x="346.6" y="293.1" width="3.4" height="0.8" fill="#777"/>
<rect x="296.3" y="301.2" width="3.4" height="0.8" fill="#777"/>
<rect x="308.9" y="301.2" width="3.4" height="0.8" fill="#777"/>
<rect x="321.2" y="301.2" width="3.4" height="0.8" fill="#444"/><rect x="322.5" y="299.9" width="0.8" height="3.4" fill="#444"/>
<rect x="333.8" y="301.2" width="3.4" height="0.8" fill="#777"/>
<rect x="346.6" y="301.2" width="3.4" height="0.8" fill="#777"/>
<rect x="296.3" y="309.2" width="3.4" height="0.8" fill="#777"/>
<rect x="308.9" y="309.2" width="3.4" height="0.8" fill="#777"/>
<rect x="321.2" y="309.2" width="3.4" height="0.8" fill="#777"/>
<rect x="333.8" y="309.2" width="3.4" height="0.8" fill="#444"/><rect x="335.1" y="307.9" width="0.8" height="3.4" fill="#444"/>
<rect x="346.6" y="309.2" width="3.4" height="0.8" fill="#777"/>
<rect x="296.3" y="317.2" width="3.4" height="0.8" fill="#777"/>
<rect x="308.9" y="317.2" width="3.4" height="0.8" fill="#777"/>
<rect x="321.2" y="317.2" width="3.4" height="0.8" fill="#777"/>
<rect x="333.8" y="317.2" width="3.4" height="0.8" fill="#777"/>
<rect x="346.6" y="317.2" width="3.4" height="0.8" fill="#444"/><rect x="347.9" y="315.9" width="0.8" height="3.4" fill="#444"/>
<rect x="289.9" y="325.1" width="69.2" height="18.8" rx="1" fill="#f5f5f5" stroke="#5a5a5a" stroke-width="1"/>
<rect x="289.9" y="347.1" width="69.2" height="18.8" rx="1" fill="#f3f3f3" stroke="#5a5a5a" stroke-width="1"/>
<rect x="294.28" y="333.50" width="9.24" height="4.40" rx="2.20" fill="#080808" filter="url(#bl)"/>
<rect x="306.61" y="333.30" width="10.19" height="4.80" rx="2.40" fill="#050505" filter="url(#bl)"/>
<rect x="318.33" y="333.50" width="9.35" height="4.40" rx="2.20" fill="#080808" filter="url(#bl)"/>
<rect x="330.77" y="333.60" width="9.66" height="4.20" rx="2.10" fill="#080808" filter="url(#bl)"/>
<rect x="343.51" y="333.50" width="10.19" height="4.40" rx="2.20" fill="#080808" filter="url(#bl)"/>
<rect x="293.63" y="354.55" width="9.94" height="4.70" rx="2.35" fill="#1e1e1e" filter="url(#bl)"/>
<rect x="305.31" y="354.44" width="10.58" height="4.93" rx="2.46" fill="#1e1e1e" filter="url(#bl)"/>
<rect x="317.61" y="354.66" width="10.58" height="4.48" rx="2.24" fill="#232323" filter="url(#bl)"/>
<rect x="330.23" y="354.66" width="9.94" height="4.48" rx="2.24" fill="#232323" filter="url(#bl)"/>
<rect x="342.88" y="354.66" width="10.04" height="4.48" rx="2.24" fill="#373737" filter="url(#bl)"/>
<text x="401.9" y="269.2" font-size="6.1" fill="#4aa84a" text-anchor="middle" textLength="19.5" lengthAdjust="spacingAndGlyphs">MM1.s</text>
<rect x="373.0" y="273.9" width="58.2" height="1.2" fill="#505050"/>
<rect x="375.3" y="284.9" width="3.4" height="0.8" fill="#444"/><rect x="376.6" y="283.6" width="0.8" height="3.4" fill="#444"/>
<rect x="387.9" y="284.9" width="3.4" height="0.8" fill="#777"/>
<rect x="400.2" y="284.9" width="3.4" height="0.8" fill="#777"/>
<rect x="412.8" y="284.9" width="3.4" height="0.8" fill="#777"/>
<rect x="425.6" y="284.9" width="3.4" height="0.8" fill="#777"/>
<rect x="375.3" y="293.1" width="3.4" height="0.8" fill="#777"/>
<rect x="387.9" y="293.1" width="3.4" height="0.8" fill="#444"/><rect x="389.2" y="291.8" width="0.8" height="3.4" fill="#444"/>
<rect x="400.2" y="293.1" width="3.4" height="0.8" fill="#777"/>
<rect x="412.8" y="293.1" width="3.4" height="0.8" fill="#777"/>
<rect x="425.6" y="293.1" width="3.4" height="0.8" fill="#777"/>
<rect x="375.3" y="301.2" width="3.4" height="0.8" fill="#777"/>
<rect x="387.9" y="301.2" width="3.4" height="0.8" fill="#777"/>
<rect x="400.2" y="301.2" width="3.4" height="0.8" fill="#444"/><rect x="401.5" y="299.9" width="0.8" height="3.4" fill="#444"/>
<rect x="412.8" y="301.2" width="3.4" height="0.8" fill="#777"/>
<rect x="425.6" y="301.2" width="3.4" height="0.8" fill="#777"/>
<rect x="375.3" y="309.2" width="3.4" height="0.8" fill="#777"/>
<rect x="387.9" y="309.2" width="3.4" height="0.8" fill="#777"/>
<rect x="400.2" y="309.2" width="3.4" height="0.8" fill="#777"/>
<rect x="412.8" y="309.2" width="3.4" height="0.8" fill="#444"/><rect x="414.1" y="307.9" width="0.8" height="3.4" fill="#444"/>
<rect x="425.6" y="309.2" width="3.4" height="0.8" fill="#777"/>
<rect x="375.3" y="317.2" width="3.4" height="0.8" fill="#777"/>
<rect x="387.9" y="317.2" width="3.4" height="0.8" fill="#777"/>
<rect x="400.2" y="317.2" width="3.4" height="0.8" fill="#777"/>
<rect x="412.8" y="317.2" width="3.4" height="0.8" fill="#777"/>
<rect x="425.6" y="317.2" width="3.4" height="0.8" fill="#444"/><rect x="426.9" y="315.9" width="0.8" height="3.4" fill="#444"/>
<rect x="368.9" y="325.1" width="69.3" height="18.8" rx="1" fill="#f6f6f6" stroke="#5a5a5a" stroke-width="1"/>
<rect x="368.9" y="347.1" width="69.3" height="18.8" rx="1" fill="#f3f3f3" stroke="#5a5a5a" stroke-width="1"/>
<rect x="373.27" y="333.50" width="9.45" height="3.00" rx="1.50" fill="#323232" filter="url(#bl)"/>
<rect x="385.77" y="333.50" width="9.45" height="3.00" rx="1.50" fill="#e4e4e4" filter="url(#bl)"/>
<rect x="398.27" y="333.50" width="9.45" height="3.00" rx="1.50" fill="#e8e8e8" filter="url(#bl)"/>
<rect x="411.27" y="333.50" width="9.45" height="3.00" rx="1.50" fill="#e8e8e8" filter="url(#bl)"/>
<rect x="424.27" y="333.50" width="9.45" height="3.00" rx="1.50" fill="#ececec" filter="url(#bl)"/>
<rect x="371.63" y="351.80" width="9.94" height="5.60" rx="2.80" fill="#0a0a0a" filter="url(#bl)"/>
<rect x="384.46" y="351.80" width="10.48" height="5.60" rx="2.80" fill="#0a0a0a" filter="url(#bl)"/>
<rect x="397.43" y="351.80" width="9.94" height="5.60" rx="2.80" fill="#0a0a0a" filter="url(#bl)"/>
<rect x="410.59" y="351.80" width="11.02" height="5.60" rx="2.80" fill="#0a0a0a" filter="url(#bl)"/>
<rect x="424.43" y="351.69" width="9.94" height="5.82" rx="2.91" fill="#080808" filter="url(#bl)"/>
<text x="12.6" y="393.8" font-size="13.8" font-weight="bold" fill="#111" stroke="#111" stroke-width="0.4" textLength="8.6" lengthAdjust="spacingAndGlyphs">B</text>
<rect x="61.70" y="420.10" width="3.3" height="124.40" fill="#3a4252"/>
<rect x="66.25" y="441.25" width="3.3" height="103.25" fill="#c5c8dc"/>
<rect x="67.55" y="430.05" width="0.7" height="11.20" fill="#444"/>
<rect x="66.70" y="429.75" width="2.4" height="0.8" fill="#333"/>
<rect x="70.80" y="436.27" width="3.3" height="108.23" fill="#8e95b8"/>
<rect x="72.10" y="435.03" width="0.7" height="1.24" fill="#444"/>
<rect x="71.25" y="434.73" width="2.4" height="0.8" fill="#333"/>
<rect x="75.35" y="482.30" width="3.3" height="62.20" fill="#4e5a8a"/>
<rect x="76.65" y="468.62" width="0.7" height="13.68" fill="#444"/>
<rect x="75.80" y="468.32" width="2.4" height="0.8" fill="#333"/>
<rect x="79.90" y="494.74" width="3.3" height="49.76" fill="#0a3a6a"/>
<rect x="81.20" y="488.52" width="0.7" height="6.22" fill="#444"/>
<rect x="80.35" y="488.22" width="2.4" height="0.8" fill="#333"/>
<rect x="87.85" y="420.10" width="3.3" height="124.40" fill="#3a4252"/>
<rect x="92.40" y="433.78" width="3.3" height="110.72" fill="#c5c8dc"/>
<rect x="93.70" y="410.15" width="0.7" height="23.64" fill="#444"/>
<rect x="92.85" y="409.85" width="2.4" height="0.8" fill="#333"/>
<rect x="96.95" y="423.83" width="3.3" height="120.67" fill="#8e95b8"/>
<rect x="98.25" y="407.66" width="0.7" height="16.17" fill="#444"/>
<rect x="97.40" y="407.36" width="2.4" height="0.8" fill="#333"/>
<rect x="101.50" y="462.40" width="3.3" height="82.10" fill="#4e5a8a"/>
<rect x="102.80" y="457.42" width="0.7" height="4.98" fill="#444"/>
<rect x="101.95" y="457.12" width="2.4" height="0.8" fill="#333"/>
<rect x="106.05" y="489.76" width="3.3" height="54.74" fill="#0a3a6a"/>
<rect x="107.35" y="481.06" width="0.7" height="8.71" fill="#444"/>
<rect x="106.50" y="480.76" width="2.4" height="0.8" fill="#333"/>
<rect x="114.00" y="420.10" width="3.3" height="124.40" fill="#3a4252"/>
<rect x="118.55" y="431.30" width="3.3" height="113.20" fill="#c5c8dc"/>
<rect x="119.85" y="430.05" width="0.7" height="1.24" fill="#444"/>
<rect x="119.00" y="429.75" width="2.4" height="0.8" fill="#333"/>
<rect x="123.10" y="437.52" width="3.3" height="106.98" fill="#8e95b8"/>
<rect x="124.40" y="422.59" width="0.7" height="14.93" fill="#444"/>
<rect x="123.55" y="422.29" width="2.4" height="0.8" fill="#333"/>
<rect x="127.65" y="462.40" width="3.3" height="82.10" fill="#4e5a8a"/>
<rect x="132.20" y="463.64" width="3.3" height="80.86" fill="#0a3a6a"/>
<rect x="133.50" y="461.15" width="0.7" height="2.49" fill="#444"/>
<rect x="132.65" y="460.85" width="2.4" height="0.8" fill="#333"/>
<rect x="140.15" y="420.10" width="3.3" height="124.40" fill="#3a4252"/>
<rect x="144.70" y="448.71" width="3.3" height="95.79" fill="#c5c8dc"/>
<rect x="146.00" y="446.22" width="0.7" height="2.49" fill="#444"/>
<rect x="145.15" y="445.92" width="2.4" height="0.8" fill="#333"/>
<rect x="149.25" y="451.82" width="3.3" height="92.68" fill="#8e95b8"/>
<rect x="150.55" y="451.20" width="0.7" height="0.62" fill="#444"/>
<rect x="149.70" y="450.90" width="2.4" height="0.8" fill="#333"/>
<rect x="153.80" y="483.54" width="3.3" height="60.96" fill="#4e5a8a"/>
<rect x="155.10" y="481.06" width="0.7" height="2.49" fill="#444"/>
<rect x="154.25" y="480.76" width="2.4" height="0.8" fill="#333"/>
<rect x="158.35" y="491.01" width="3.3" height="53.49" fill="#0a3a6a"/>
<rect x="159.65" y="484.79" width="0.7" height="6.22" fill="#444"/>
<rect x="158.80" y="484.49" width="2.4" height="0.8" fill="#333"/>
<rect x="166.30" y="420.10" width="3.3" height="124.40" fill="#3a4252"/>
<rect x="170.85" y="444.98" width="3.3" height="99.52" fill="#c5c8dc"/>
<rect x="172.15" y="443.74" width="0.7" height="1.24" fill="#444"/>
<rect x="171.30" y="443.44" width="2.4" height="0.8" fill="#333"/>
<rect x="175.40" y="457.42" width="3.3" height="87.08" fill="#8e95b8"/>
<rect x="176.70" y="442.49" width="0.7" height="14.93" fill="#444"/>
<rect x="175.85" y="442.19" width="2.4" height="0.8" fill="#333"/>
<rect x="179.95" y="471.10" width="3.3" height="73.40" fill="#4e5a8a"/>
<rect x="181.25" y="462.40" width="0.7" height="8.71" fill="#444"/>
<rect x="180.40" y="462.10" width="2.4" height="0.8" fill="#333"/>
<rect x="184.50" y="494.74" width="3.3" height="49.76" fill="#0a3a6a"/>
<rect x="185.80" y="481.06" width="0.7" height="13.68" fill="#444"/>
<rect x="184.95" y="480.76" width="2.4" height="0.8" fill="#333"/>
<rect x="192.45" y="420.10" width="3.3" height="124.40" fill="#3a4252"/>
<rect x="197.00" y="451.20" width="3.3" height="93.30" fill="#c5c8dc"/>
<rect x="198.30" y="449.96" width="0.7" height="1.24" fill="#444"/>
<rect x="197.45" y="449.66" width="2.4" height="0.8" fill="#333"/>
<rect x="201.55" y="464.26" width="3.3" height="80.24" fill="#8e95b8"/>
<rect x="202.85" y="452.44" width="0.7" height="11.82" fill="#444"/>
<rect x="202.00" y="452.14" width="2.4" height="0.8" fill="#333"/>
<rect x="206.10" y="476.08" width="3.3" height="68.42" fill="#4e5a8a"/>
<rect x="207.40" y="463.02" width="0.7" height="13.06" fill="#444"/>
<rect x="206.55" y="462.72" width="2.4" height="0.8" fill="#333"/>
<rect x="210.65" y="476.08" width="3.3" height="68.42" fill="#0a3a6a"/>
<rect x="211.95" y="473.59" width="0.7" height="2.49" fill="#444"/>
<rect x="211.10" y="473.29" width="2.4" height="0.8" fill="#333"/>
<rect x="218.60" y="420.10" width="3.3" height="124.40" fill="#3a4252"/>
<rect x="223.15" y="422.59" width="3.3" height="121.91" fill="#c5c8dc"/>
<rect x="224.45" y="417.61" width="0.7" height="4.98" fill="#444"/>
<rect x="223.60" y="417.31" width="2.4" height="0.8" fill="#333"/>
<rect x="227.70" y="443.74" width="3.3" height="100.76" fill="#8e95b8"/>
<rect x="229.00" y="431.30" width="0.7" height="12.44" fill="#444"/>
<rect x="228.15" y="431.00" width="2.4" height="0.8" fill="#333"/>
<rect x="232.25" y="447.47" width="3.3" height="97.03" fill="#4e5a8a"/>
<rect x="233.55" y="444.98" width="0.7" height="2.49" fill="#444"/>
<rect x="232.70" y="444.68" width="2.4" height="0.8" fill="#333"/>
<rect x="236.80" y="454.93" width="3.3" height="89.57" fill="#0a3a6a"/>
<rect x="238.10" y="447.47" width="0.7" height="7.46" fill="#444"/>
<rect x="237.25" y="447.17" width="2.4" height="0.8" fill="#333"/>
<rect x="244.75" y="420.10" width="3.3" height="124.40" fill="#3a4252"/>
<rect x="249.30" y="438.76" width="3.3" height="105.74" fill="#c5c8dc"/>
<rect x="250.60" y="436.27" width="0.7" height="2.49" fill="#444"/>
<rect x="249.75" y="435.97" width="2.4" height="0.8" fill="#333"/>
<rect x="253.85" y="466.13" width="3.3" height="78.37" fill="#8e95b8"/>
<rect x="255.15" y="463.02" width="0.7" height="3.11" fill="#444"/>
<rect x="254.30" y="462.72" width="2.4" height="0.8" fill="#333"/>
<rect x="258.40" y="473.59" width="3.3" height="70.91" fill="#4e5a8a"/>
<rect x="259.70" y="469.86" width="0.7" height="3.73" fill="#444"/>
<rect x="258.85" y="469.56" width="2.4" height="0.8" fill="#333"/>
<rect x="262.95" y="493.50" width="3.3" height="51.00" fill="#0a3a6a"/>
<rect x="264.25" y="482.30" width="0.7" height="11.20" fill="#444"/>
<rect x="263.40" y="482.00" width="2.4" height="0.8" fill="#333"/>
<rect x="270.90" y="420.10" width="3.3" height="124.40" fill="#3a4252"/>
<rect x="275.45" y="433.78" width="3.3" height="110.72" fill="#c5c8dc"/>
<rect x="276.75" y="431.30" width="0.7" height="2.49" fill="#444"/>
<rect x="275.90" y="431.00" width="2.4" height="0.8" fill="#333"/>
<rect x="280.00" y="453.69" width="3.3" height="90.81" fill="#8e95b8"/>
<rect x="281.30" y="440.00" width="0.7" height="13.68" fill="#444"/>
<rect x="280.45" y="439.70" width="2.4" height="0.8" fill="#333"/>
<rect x="284.55" y="472.35" width="3.3" height="72.15" fill="#4e5a8a"/>
<rect x="285.85" y="452.44" width="0.7" height="19.90" fill="#444"/>
<rect x="285.00" y="452.14" width="2.4" height="0.8" fill="#333"/>
<rect x="289.10" y="477.32" width="3.3" height="67.18" fill="#0a3a6a"/>
<rect x="290.40" y="474.84" width="0.7" height="2.49" fill="#444"/>
<rect x="289.55" y="474.54" width="2.4" height="0.8" fill="#333"/>
<rect x="297.05" y="420.10" width="3.3" height="124.40" fill="#3a4252"/>
<rect x="301.60" y="412.64" width="3.3" height="131.86" fill="#c5c8dc"/>
<rect x="302.90" y="410.15" width="0.7" height="2.49" fill="#444"/>
<rect x="302.05" y="409.85" width="2.4" height="0.8" fill="#333"/>
<rect x="306.15" y="409.53" width="3.3" height="134.97" fill="#8e95b8"/>
<rect x="307.45" y="408.90" width="0.7" height="0.62" fill="#444"/>
<rect x="306.60" y="408.60" width="2.4" height="0.8" fill="#333"/>
<rect x="310.70" y="423.21" width="3.3" height="121.29" fill="#4e5a8a"/>
<rect x="312.00" y="416.37" width="0.7" height="6.84" fill="#444"/>
<rect x="311.15" y="416.07" width="2.4" height="0.8" fill="#333"/>
<rect x="315.25" y="418.86" width="3.3" height="125.64" fill="#0a3a6a"/>
<rect x="316.55" y="417.61" width="0.7" height="1.24" fill="#444"/>
<rect x="315.70" y="417.31" width="2.4" height="0.8" fill="#333"/>
<rect x="323.20" y="420.10" width="3.3" height="124.40" fill="#3a4252"/>
<rect x="327.75" y="423.83" width="3.3" height="120.67" fill="#c5c8dc"/>
<rect x="329.05" y="417.61" width="0.7" height="6.22" fill="#444"/>
<rect x="328.20" y="417.31" width="2.4" height="0.8" fill="#333"/>
<rect x="332.30" y="421.97" width="3.3" height="122.53" fill="#8e95b8"/>
<rect x="333.60" y="421.34" width="0.7" height="0.62" fill="#444"/>
<rect x="332.75" y="421.04" width="2.4" height="0.8" fill="#333"/>
<rect x="336.85" y="426.32" width="3.3" height="118.18" fill="#4e5a8a"/>
<rect x="338.15" y="421.34" width="0.7" height="4.98" fill="#444"/>
<rect x="337.30" y="421.04" width="2.4" height="0.8" fill="#333"/>
<rect x="341.40" y="423.83" width="3.3" height="120.67" fill="#0a3a6a"/>
<rect x="342.70" y="421.34" width="0.7" height="2.49" fill="#444"/>
<rect x="341.85" y="421.04" width="2.4" height="0.8" fill="#333"/>
<rect x="349.35" y="420.10" width="3.3" height="124.40" fill="#3a4252"/>
<rect x="353.90" y="417.61" width="3.3" height="126.89" fill="#c5c8dc"/>
<rect x="355.20" y="416.37" width="0.7" height="1.24" fill="#444"/>
<rect x="354.35" y="416.07" width="2.4" height="0.8" fill="#333"/>
<rect x="358.45" y="436.27" width="3.3" height="108.23" fill="#8e95b8"/>
<rect x="359.75" y="435.03" width="0.7" height="1.24" fill="#444"/>
<rect x="358.90" y="434.73" width="2.4" height="0.8" fill="#333"/>
<rect x="363.00" y="463.64" width="3.3" height="80.86" fill="#4e5a8a"/>
<rect x="364.30" y="454.93" width="0.7" height="8.71" fill="#444"/>
<rect x="363.45" y="454.63" width="2.4" height="0.8" fill="#333"/>
<rect x="367.55" y="494.74" width="3.3" height="49.76" fill="#0a3a6a"/>
<rect x="368.85" y="481.06" width="0.7" height="13.68" fill="#444"/>
<rect x="368.00" y="480.76" width="2.4" height="0.8" fill="#333"/>
<rect x="375.50" y="420.10" width="3.3" height="124.40" fill="#3a4252"/>
<rect x="380.05" y="449.96" width="3.3" height="94.54" fill="#c5c8dc"/>
<rect x="381.35" y="442.49" width="0.7" height="7.46" fill="#444"/>
<rect x="380.50" y="442.19" width="2.4" height="0.8" fill="#333"/>
<rect x="384.60" y="451.82" width="3.3" height="92.68" fill="#8e95b8"/>
<rect x="385.90" y="433.78" width="0.7" height="18.04" fill="#444"/>
<rect x="385.05" y="433.48" width="2.4" height="0.8" fill="#333"/>
<rect x="389.15" y="480.43" width="3.3" height="64.07" fill="#4e5a8a"/>
<rect x="393.70" y="489.76" width="3.3" height="54.74" fill="#0a3a6a"/>
<rect x="395.00" y="487.28" width="0.7" height="2.49" fill="#444"/>
<rect x="394.15" y="486.98" width="2.4" height="0.8" fill="#333"/>
<rect x="401.65" y="420.10" width="3.3" height="124.40" fill="#3a4252"/>
<rect x="406.20" y="425.08" width="3.3" height="119.42" fill="#c5c8dc"/>
<rect x="407.50" y="423.21" width="0.7" height="1.87" fill="#444"/>
<rect x="406.65" y="422.91" width="2.4" height="0.8" fill="#333"/>
<rect x="410.75" y="417.61" width="3.3" height="126.89" fill="#8e95b8"/>
<rect x="412.05" y="408.90" width="0.7" height="8.71" fill="#444"/>
<rect x="411.20" y="408.60" width="2.4" height="0.8" fill="#333"/>
<rect x="415.30" y="438.76" width="3.3" height="105.74" fill="#4e5a8a"/>
<rect x="416.60" y="432.54" width="0.7" height="6.22" fill="#444"/>
<rect x="415.75" y="432.24" width="2.4" height="0.8" fill="#333"/>
<rect x="419.85" y="431.30" width="3.3" height="113.20" fill="#0a3a6a"/>
<rect x="421.15" y="419.48" width="0.7" height="11.82" fill="#444"/>
<rect x="420.30" y="419.18" width="2.4" height="0.8" fill="#333"/>
<rect x="427.80" y="420.10" width="3.3" height="124.40" fill="#3a4252"/>
<rect x="432.35" y="435.03" width="3.3" height="109.47" fill="#c5c8dc"/>
<rect x="433.65" y="412.64" width="0.7" height="22.39" fill="#444"/>
<rect x="432.80" y="412.34" width="2.4" height="0.8" fill="#333"/>
<rect x="436.90" y="451.82" width="3.3" height="92.68" fill="#8e95b8"/>
<rect x="441.45" y="489.76" width="3.3" height="54.74" fill="#4e5a8a"/>
<rect x="442.75" y="481.06" width="0.7" height="8.71" fill="#444"/>
<rect x="441.90" y="480.76" width="2.4" height="0.8" fill="#333"/>
<rect x="446.00" y="499.72" width="3.3" height="44.78" fill="#0a3a6a"/>
<rect x="447.30" y="495.98" width="0.7" height="3.73" fill="#444"/>
<rect x="446.45" y="495.68" width="2.4" height="0.8" fill="#333"/>
<rect x="59.85" y="392.22" width="1.1" height="152.88" fill="#1e1e1e"/>
<rect x="59.85" y="544.00" width="391.35" height="1.1" fill="#1e1e1e"/>
<rect x="56.4" y="544.00" width="3.70" height="1" fill="#222"/>
<text x="52.5" y="547.60" font-size="10.6" fill="#2a2a2a" stroke="#2a2a2a" stroke-width="0.12" text-anchor="end" textLength="13.2" lengthAdjust="spacingAndGlyphs">0.0</text>
<rect x="56.4" y="519.12" width="3.70" height="1" fill="#222"/>
<text x="52.5" y="522.72" font-size="10.6" fill="#2a2a2a" stroke="#2a2a2a" stroke-width="0.12" text-anchor="end" textLength="13.2" lengthAdjust="spacingAndGlyphs">0.2</text>
<rect x="56.4" y="494.24" width="3.70" height="1" fill="#222"/>
<text x="52.5" y="497.84" font-size="10.6" fill="#2a2a2a" stroke="#2a2a2a" stroke-width="0.12" text-anchor="end" textLength="13.2" lengthAdjust="spacingAndGlyphs">0.4</text>
<rect x="56.4" y="469.36" width="3.70" height="1" fill="#222"/>
<text x="52.5" y="472.96" font-size="10.6" fill="#2a2a2a" stroke="#2a2a2a" stroke-width="0.12" text-anchor="end" textLength="13.2" lengthAdjust="spacingAndGlyphs">0.6</text>
<rect x="56.4" y="444.48" width="3.70" height="1" fill="#222"/>
<text x="52.5" y="448.08" font-size="10.6" fill="#2a2a2a" stroke="#2a2a2a" stroke-width="0.12" text-anchor="end" textLength="13.2" lengthAdjust="spacingAndGlyphs">0.8</text>
<rect x="56.4" y="419.60" width="3.70" height="1" fill="#222"/>
<text x="52.5" y="423.20" font-size="10.6" fill="#2a2a2a" stroke="#2a2a2a" stroke-width="0.12" text-anchor="end" textLength="13.2" lengthAdjust="spacingAndGlyphs">1.0</text>
<rect x="56.4" y="394.72" width="3.70" height="1" fill="#222"/>
<text x="52.5" y="398.32" font-size="10.6" fill="#2a2a2a" stroke="#2a2a2a" stroke-width="0.12" text-anchor="end" textLength="13.2" lengthAdjust="spacingAndGlyphs">1.2</text>
<rect x="71.95" y="544.50" width="1" height="3.6" fill="#222"/>
<g transform="translate(76.15,557.20) rotate(-45)"><text x="0" y="0" font-size="9.9" fill="#222" stroke="#222" stroke-width="0.15" text-anchor="end">p.D50H</text></g>
<rect x="98.10" y="544.50" width="1" height="3.6" fill="#222"/>
<g transform="translate(102.30,557.20) rotate(-45)"><text x="0" y="0" font-size="9.9" fill="#222" stroke="#222" stroke-width="0.15" text-anchor="end">p.A143V</text></g>
<rect x="124.25" y="544.50" width="1" height="3.6" fill="#222"/>
<g transform="translate(128.45,557.20) rotate(-45)"><text x="0" y="0" font-size="9.9" fill="#222" stroke="#222" stroke-width="0.15" text-anchor="end">p.L190F</text></g>
<rect x="150.40" y="544.50" width="1" height="3.6" fill="#222"/>
<g transform="translate(154.60,557.20) rotate(-45)"><text x="0" y="0" font-size="9.9" fill="#222" stroke="#222" stroke-width="0.15" text-anchor="end">p.R283K</text></g>
<rect x="176.55" y="544.50" width="1" height="3.6" fill="#222"/>
<g transform="translate(180.75,557.20) rotate(-45)"><text x="0" y="0" font-size="9.9" fill="#222" stroke="#222" stroke-width="0.15" text-anchor="end">p.C326G</text></g>
<rect x="202.70" y="544.50" width="1" height="3.6" fill="#222"/>
<g transform="translate(206.90,557.20) rotate(-45)"><text x="0" y="0" font-size="9.9" fill="#222" stroke="#222" stroke-width="0.15" text-anchor="end">p.A347V</text></g>
<rect x="228.85" y="544.50" width="1" height="3.6" fill="#222"/>
<g transform="translate(233.05,557.20) rotate(-45)"><text x="0" y="0" font-size="9.9" fill="#222" stroke="#222" stroke-width="0.15" text-anchor="end">p.P352S</text></g>
<rect x="255.00" y="544.50" width="1" height="3.6" fill="#222"/>
<g transform="translate(259.20,557.20) rotate(-45)"><text x="0" y="0" font-size="9.9" fill="#222" stroke="#222" stroke-width="0.15" text-anchor="end">p.C366Y</text></g>
<rect x="281.15" y="544.50" width="1" height="3.6" fill="#222"/>
<g transform="translate(285.35,557.20) rotate(-45)"><text x="0" y="0" font-size="9.9" fill="#222" stroke="#222" stroke-width="0.15" text-anchor="end">p.F381S</text></g>
<rect x="307.30" y="544.50" width="1" height="3.6" fill="#222"/>
<g transform="translate(311.50,557.20) rotate(-45)"><text x="0" y="0" font-size="9.9" fill="#222" stroke="#222" stroke-width="0.15" text-anchor="end">p.W386A</text></g>
<rect x="333.45" y="544.50" width="1" height="3.6" fill="#222"/>
<g transform="translate(337.65,557.20) rotate(-45)"><text x="0" y="0" font-size="9.9" fill="#222" stroke="#222" stroke-width="0.15" text-anchor="end">p.H397Y</text></g>
<rect x="359.60" y="544.50" width="1" height="3.6" fill="#222"/>
<g transform="translate(363.80,557.20) rotate(-45)"><text x="0" y="0" font-size="9.9" fill="#222" stroke="#222" stroke-width="0.15" text-anchor="end">p.W415G</text></g>
<rect x="385.75" y="544.50" width="1" height="3.6" fill="#222"/>
<g transform="translate(389.95,557.20) rotate(-45)"><text x="-10.2" y="0" font-size="9.9" fill="#222" stroke="#222" stroke-width="0.15" text-anchor="end">CRBN</text><text x="0" y="-3.6" font-size="7.0" fill="#222" stroke="#222" stroke-width="0.1" text-anchor="end">WT</text></g>
<rect x="411.90" y="544.50" width="1" height="3.6" fill="#222"/>
<g transform="translate(416.10,557.20) rotate(-45)"><text x="0" y="0" font-size="9.9" fill="#222" stroke="#222" stroke-width="0.15" text-anchor="end">EV</text></g>
<rect x="438.05" y="544.50" width="1" height="3.6" fill="#222"/>
<g transform="translate(442.25,557.20) rotate(-45)"><text x="0" y="0" font-size="9.9" fill="#222" stroke="#222" stroke-width="0.15" text-anchor="end">MM1.s</text></g>
<text transform="translate(21.8,469.8) rotate(-90)" x="0" y="0" font-size="10.4" fill="#222" stroke="#222" stroke-width="0.12" text-anchor="middle" textLength="75.2" lengthAdjust="spacingAndGlyphs">Aiolos fold change</text>
<text transform="translate(33.0,470.2) rotate(-90)" x="0" y="0" font-size="7.8" fill="#222" text-anchor="middle" textLength="122.3" lengthAdjust="spacingAndGlyphs">(normalized to corresponding MM1.s)</text>
<text x="210.8" y="607.3" font-size="11.2" fill="#222" textLength="28.8" lengthAdjust="spacingAndGlyphs">MM1.s</text>
<text x="239.8" y="602.6" font-size="8.2" fill="#222" textLength="27.3" lengthAdjust="spacingAndGlyphs">CRBNKO</text>
<text x="269.8" y="607.3" font-size="11.0" fill="#222" textLength="29.6" lengthAdjust="spacingAndGlyphs">Clone 1</text>
<rect x="466.9" y="448.5" width="10.2" height="4.4" fill="#4a5664" stroke="#2a3039" stroke-width="0.9"/>
<text x="481.6" y="453.6" font-size="8.4" fill="#222" textLength="27.2" lengthAdjust="spacingAndGlyphs">DMSO</text>
<rect x="466.9" y="462.5" width="10.2" height="4.4" fill="#c9cbe0" stroke="#aeb2cc" stroke-width="0.9"/>
<text x="481.6" y="467.6" font-size="8.4" fill="#222" textLength="15.8" lengthAdjust="spacingAndGlyphs">LEN</text>
<rect x="466.9" y="476.5" width="10.2" height="4.4" fill="#949dc8" stroke="#7880a8" stroke-width="0.9"/>
<text x="481.6" y="481.6" font-size="8.4" fill="#222" textLength="20.5" lengthAdjust="spacingAndGlyphs">POM</text>
<rect x="466.9" y="490.5" width="10.2" height="4.4" fill="#5771a8" stroke="#3b4a7e" stroke-width="0.9"/>
<text x="481.6" y="495.6" font-size="8.4" fill="#222" textLength="16.8" lengthAdjust="spacingAndGlyphs">IBER</text>
<rect x="466.9" y="504.5" width="10.2" height="4.4" fill="#174f8e" stroke="#0a3262" stroke-width="0.9"/>
<text x="481.6" y="509.6" font-size="8.4" fill="#222" textLength="20.6" lengthAdjust="spacingAndGlyphs">MEZI</text>
<text x="12.6" y="634.7" font-size="13.8" font-weight="bold" fill="#111" stroke="#111" stroke-width="0.4" textLength="8.6" lengthAdjust="spacingAndGlyphs">C</text>
<rect x="61.70" y="680.60" width="3.3" height="111.10" fill="#3a4252"/>
<rect x="66.25" y="706.15" width="3.3" height="85.55" fill="#c5c8dc"/>
<rect x="67.55" y="702.82" width="0.7" height="3.33" fill="#444"/>
<rect x="66.70" y="702.52" width="2.4" height="0.8" fill="#333"/>
<rect x="70.80" y="712.26" width="3.3" height="79.44" fill="#8e95b8"/>
<rect x="72.10" y="706.15" width="0.7" height="6.11" fill="#444"/>
<rect x="71.25" y="705.85" width="2.4" height="0.8" fill="#333"/>
<rect x="75.35" y="728.37" width="3.3" height="63.33" fill="#4e5a8a"/>
<rect x="76.65" y="725.04" width="0.7" height="3.33" fill="#444"/>
<rect x="75.80" y="724.74" width="2.4" height="0.8" fill="#333"/>
<rect x="79.90" y="718.93" width="3.3" height="72.77" fill="#0a3a6a"/>
<rect x="81.20" y="709.49" width="0.7" height="9.44" fill="#444"/>
<rect x="80.35" y="709.19" width="2.4" height="0.8" fill="#333"/>
<rect x="87.85" y="680.60" width="3.3" height="111.10" fill="#3a4252"/>
<rect x="92.40" y="695.04" width="3.3" height="96.66" fill="#c5c8dc"/>
<rect x="93.70" y="687.27" width="0.7" height="7.78" fill="#444"/>
<rect x="92.85" y="686.97" width="2.4" height="0.8" fill="#333"/>
<rect x="96.95" y="705.04" width="3.3" height="86.66" fill="#8e95b8"/>
<rect x="98.25" y="696.15" width="0.7" height="8.89" fill="#444"/>
<rect x="97.40" y="695.85" width="2.4" height="0.8" fill="#333"/>
<rect x="101.50" y="712.26" width="3.3" height="79.44" fill="#4e5a8a"/>
<rect x="102.80" y="705.04" width="0.7" height="7.22" fill="#444"/>
<rect x="101.95" y="704.74" width="2.4" height="0.8" fill="#333"/>
<rect x="106.05" y="723.93" width="3.3" height="67.77" fill="#0a3a6a"/>
<rect x="107.35" y="721.71" width="0.7" height="2.22" fill="#444"/>
<rect x="106.50" y="721.41" width="2.4" height="0.8" fill="#333"/>
<rect x="114.00" y="680.60" width="3.3" height="111.10" fill="#3a4252"/>
<rect x="118.55" y="730.60" width="3.3" height="61.11" fill="#c5c8dc"/>
<rect x="119.85" y="720.60" width="0.7" height="10.00" fill="#444"/>
<rect x="119.00" y="720.30" width="2.4" height="0.8" fill="#333"/>
<rect x="123.10" y="738.93" width="3.3" height="52.77" fill="#8e95b8"/>
<rect x="124.40" y="729.48" width="0.7" height="9.44" fill="#444"/>
<rect x="123.55" y="729.18" width="2.4" height="0.8" fill="#333"/>
<rect x="127.65" y="739.48" width="3.3" height="52.22" fill="#4e5a8a"/>
<rect x="128.95" y="730.60" width="0.7" height="8.89" fill="#444"/>
<rect x="128.10" y="730.30" width="2.4" height="0.8" fill="#333"/>
<rect x="132.20" y="730.60" width="3.3" height="61.11" fill="#0a3a6a"/>
<rect x="133.50" y="717.82" width="0.7" height="12.78" fill="#444"/>
<rect x="132.65" y="717.52" width="2.4" height="0.8" fill="#333"/>
<rect x="140.15" y="680.60" width="3.3" height="111.10" fill="#3a4252"/>
<rect x="144.70" y="728.37" width="3.3" height="63.33" fill="#c5c8dc"/>
<rect x="146.00" y="726.15" width="0.7" height="2.22" fill="#444"/>
<rect x="145.15" y="725.85" width="2.4" height="0.8" fill="#333"/>
<rect x="149.25" y="735.04" width="3.3" height="56.66" fill="#8e95b8"/>
<rect x="150.55" y="732.82" width="0.7" height="2.22" fill="#444"/>
<rect x="149.70" y="732.52" width="2.4" height="0.8" fill="#333"/>
<rect x="153.80" y="735.04" width="3.3" height="56.66" fill="#4e5a8a"/>
<rect x="155.10" y="733.93" width="0.7" height="1.11" fill="#444"/>
<rect x="154.25" y="733.63" width="2.4" height="0.8" fill="#333"/>
<rect x="158.35" y="725.04" width="3.3" height="66.66" fill="#0a3a6a"/>
<rect x="159.65" y="722.82" width="0.7" height="2.22" fill="#444"/>
<rect x="158.80" y="722.52" width="2.4" height="0.8" fill="#333"/>
<rect x="166.30" y="680.60" width="3.3" height="111.10" fill="#3a4252"/>
<rect x="170.85" y="713.37" width="3.3" height="78.33" fill="#c5c8dc"/>
<rect x="172.15" y="708.38" width="0.7" height="5.00" fill="#444"/>
<rect x="171.30" y="708.08" width="2.4" height="0.8" fill="#333"/>
<rect x="175.40" y="700.60" width="3.3" height="91.10" fill="#8e95b8"/>
<rect x="176.70" y="693.93" width="0.7" height="6.67" fill="#444"/>
<rect x="175.85" y="693.63" width="2.4" height="0.8" fill="#333"/>
<rect x="179.95" y="726.48" width="3.3" height="65.22" fill="#4e5a8a"/>
<rect x="184.50" y="717.82" width="3.3" height="73.88" fill="#0a3a6a"/>
<rect x="185.80" y="708.38" width="0.7" height="9.44" fill="#444"/>
<rect x="184.95" y="708.08" width="2.4" height="0.8" fill="#333"/>
<rect x="192.45" y="680.60" width="3.3" height="111.10" fill="#3a4252"/>
<rect x="197.00" y="713.37" width="3.3" height="78.33" fill="#c5c8dc"/>
<rect x="198.30" y="708.38" width="0.7" height="5.00" fill="#444"/>
<rect x="197.45" y="708.08" width="2.4" height="0.8" fill="#333"/>
<rect x="201.55" y="716.15" width="3.3" height="75.55" fill="#8e95b8"/>
<rect x="202.85" y="707.26" width="0.7" height="8.89" fill="#444"/>
<rect x="202.00" y="706.96" width="2.4" height="0.8" fill="#333"/>
<rect x="206.10" y="725.04" width="3.3" height="66.66" fill="#4e5a8a"/>
<rect x="207.40" y="718.93" width="0.7" height="6.11" fill="#444"/>
<rect x="206.55" y="718.63" width="2.4" height="0.8" fill="#333"/>
<rect x="210.65" y="710.60" width="3.3" height="81.10" fill="#0a3a6a"/>
<rect x="211.95" y="708.38" width="0.7" height="2.22" fill="#444"/>
<rect x="211.10" y="708.08" width="2.4" height="0.8" fill="#333"/>
<rect x="218.60" y="680.60" width="3.3" height="111.10" fill="#3a4252"/>
<rect x="223.15" y="676.16" width="3.3" height="115.54" fill="#c5c8dc"/>
<rect x="224.45" y="673.93" width="0.7" height="2.22" fill="#444"/>
<rect x="223.60" y="673.63" width="2.4" height="0.8" fill="#333"/>
<rect x="227.70" y="672.82" width="3.3" height="118.88" fill="#8e95b8"/>
<rect x="229.00" y="670.60" width="0.7" height="2.22" fill="#444"/>
<rect x="228.15" y="670.30" width="2.4" height="0.8" fill="#333"/>
<rect x="232.25" y="682.27" width="3.3" height="109.43" fill="#4e5a8a"/>
<rect x="233.55" y="678.38" width="0.7" height="3.89" fill="#444"/>
<rect x="232.70" y="678.08" width="2.4" height="0.8" fill="#333"/>
<rect x="236.80" y="705.04" width="3.3" height="86.66" fill="#0a3a6a"/>
<rect x="238.10" y="701.71" width="0.7" height="3.33" fill="#444"/>
<rect x="237.25" y="701.41" width="2.4" height="0.8" fill="#333"/>
<rect x="244.75" y="680.60" width="3.3" height="111.10" fill="#3a4252"/>
<rect x="249.30" y="701.15" width="3.3" height="90.55" fill="#c5c8dc"/>
<rect x="250.60" y="695.60" width="0.7" height="5.55" fill="#444"/>
<rect x="249.75" y="695.30" width="2.4" height="0.8" fill="#333"/>
<rect x="253.85" y="703.93" width="3.3" height="87.77" fill="#8e95b8"/>
<rect x="255.15" y="699.49" width="0.7" height="4.44" fill="#444"/>
<rect x="254.30" y="699.19" width="2.4" height="0.8" fill="#333"/>
<rect x="258.40" y="710.60" width="3.3" height="81.10" fill="#4e5a8a"/>
<rect x="259.70" y="707.26" width="0.7" height="3.33" fill="#444"/>
<rect x="258.85" y="706.96" width="2.4" height="0.8" fill="#333"/>
<rect x="262.95" y="708.38" width="3.3" height="83.33" fill="#0a3a6a"/>
<rect x="264.25" y="706.15" width="0.7" height="2.22" fill="#444"/>
<rect x="263.40" y="705.85" width="2.4" height="0.8" fill="#333"/>
<rect x="270.90" y="680.60" width="3.3" height="111.10" fill="#3a4252"/>
<rect x="275.45" y="681.71" width="3.3" height="109.99" fill="#c5c8dc"/>
<rect x="276.75" y="678.38" width="0.7" height="3.33" fill="#444"/>
<rect x="275.90" y="678.08" width="2.4" height="0.8" fill="#333"/>
<rect x="280.00" y="690.60" width="3.3" height="101.10" fill="#8e95b8"/>
<rect x="281.30" y="689.49" width="0.7" height="1.11" fill="#444"/>
<rect x="280.45" y="689.19" width="2.4" height="0.8" fill="#333"/>
<rect x="284.55" y="690.60" width="3.3" height="101.10" fill="#4e5a8a"/>
<rect x="289.10" y="684.49" width="3.3" height="107.21" fill="#0a3a6a"/>
<rect x="290.40" y="679.49" width="0.7" height="5.00" fill="#444"/>
<rect x="289.55" y="679.19" width="2.4" height="0.8" fill="#333"/>
<rect x="297.05" y="680.60" width="3.3" height="111.10" fill="#3a4252"/>
<rect x="301.60" y="685.04" width="3.3" height="106.66" fill="#c5c8dc"/>
<rect x="302.90" y="683.93" width="0.7" height="1.11" fill="#444"/>
<rect x="302.05" y="683.63" width="2.4" height="0.8" fill="#333"/>
<rect x="306.15" y="683.93" width="3.3" height="107.77" fill="#8e95b8"/>
<rect x="307.45" y="679.49" width="0.7" height="4.44" fill="#444"/>
<rect x="306.60" y="679.19" width="2.4" height="0.8" fill="#333"/>
<rect x="310.70" y="683.93" width="3.3" height="107.77" fill="#4e5a8a"/>
<rect x="312.00" y="680.60" width="0.7" height="3.33" fill="#444"/>
<rect x="311.15" y="680.30" width="2.4" height="0.8" fill="#333"/>
<rect x="315.25" y="670.60" width="3.3" height="121.10" fill="#0a3a6a"/>
<rect x="316.55" y="665.05" width="0.7" height="5.55" fill="#444"/>
<rect x="315.70" y="664.75" width="2.4" height="0.8" fill="#333"/>
<rect x="323.20" y="680.60" width="3.3" height="111.10" fill="#3a4252"/>
<rect x="327.75" y="683.93" width="3.3" height="107.77" fill="#c5c8dc"/>
<rect x="329.05" y="681.71" width="0.7" height="2.22" fill="#444"/>
<rect x="328.20" y="681.41" width="2.4" height="0.8" fill="#333"/>
<rect x="332.30" y="682.82" width="3.3" height="108.88" fill="#8e95b8"/>
<rect x="333.60" y="678.38" width="0.7" height="4.44" fill="#444"/>
<rect x="332.75" y="678.08" width="2.4" height="0.8" fill="#333"/>
<rect x="336.85" y="670.60" width="3.3" height="121.10" fill="#4e5a8a"/>
<rect x="338.15" y="660.05" width="0.7" height="10.55" fill="#444"/>
<rect x="337.30" y="659.75" width="2.4" height="0.8" fill="#333"/>
<rect x="341.40" y="672.82" width="3.3" height="118.88" fill="#0a3a6a"/>
<rect x="342.70" y="666.16" width="0.7" height="6.67" fill="#444"/>
<rect x="341.85" y="665.86" width="2.4" height="0.8" fill="#333"/>
<rect x="349.35" y="680.60" width="3.3" height="111.10" fill="#3a4252"/>
<rect x="353.90" y="713.93" width="3.3" height="77.77" fill="#c5c8dc"/>
<rect x="355.20" y="711.71" width="0.7" height="2.22" fill="#444"/>
<rect x="354.35" y="711.41" width="2.4" height="0.8" fill="#333"/>
<rect x="358.45" y="722.82" width="3.3" height="68.88" fill="#8e95b8"/>
<rect x="359.75" y="721.71" width="0.7" height="1.11" fill="#444"/>
<rect x="358.90" y="721.41" width="2.4" height="0.8" fill="#333"/>
<rect x="363.00" y="727.26" width="3.3" height="64.44" fill="#4e5a8a"/>
<rect x="364.30" y="723.37" width="0.7" height="3.89" fill="#444"/>
<rect x="363.45" y="723.07" width="2.4" height="0.8" fill="#333"/>
<rect x="367.55" y="722.26" width="3.3" height="69.44" fill="#0a3a6a"/>
<rect x="368.85" y="718.93" width="0.7" height="3.33" fill="#444"/>
<rect x="368.00" y="718.63" width="2.4" height="0.8" fill="#333"/>
<rect x="375.50" y="680.60" width="3.3" height="111.10" fill="#3a4252"/>
<rect x="380.05" y="718.93" width="3.3" height="72.77" fill="#c5c8dc"/>
<rect x="381.35" y="716.15" width="0.7" height="2.78" fill="#444"/>
<rect x="380.50" y="715.85" width="2.4" height="0.8" fill="#333"/>
<rect x="384.60" y="727.82" width="3.3" height="63.88" fill="#8e95b8"/>
<rect x="385.90" y="725.04" width="0.7" height="2.78" fill="#444"/>
<rect x="385.05" y="724.74" width="2.4" height="0.8" fill="#333"/>
<rect x="389.15" y="727.82" width="3.3" height="63.88" fill="#4e5a8a"/>
<rect x="390.45" y="726.15" width="0.7" height="1.67" fill="#444"/>
<rect x="389.60" y="725.85" width="2.4" height="0.8" fill="#333"/>
<rect x="393.70" y="717.26" width="3.3" height="74.44" fill="#0a3a6a"/>
<rect x="395.00" y="712.82" width="0.7" height="4.44" fill="#444"/>
<rect x="394.15" y="712.52" width="2.4" height="0.8" fill="#333"/>
<rect x="401.65" y="680.60" width="3.3" height="111.10" fill="#3a4252"/>
<rect x="406.20" y="676.16" width="3.3" height="115.54" fill="#c5c8dc"/>
<rect x="407.50" y="675.05" width="0.7" height="1.11" fill="#444"/>
<rect x="406.65" y="674.75" width="2.4" height="0.8" fill="#333"/>
<rect x="410.75" y="678.38" width="3.3" height="113.32" fill="#8e95b8"/>
<rect x="412.05" y="675.05" width="0.7" height="3.33" fill="#444"/>
<rect x="411.20" y="674.75" width="2.4" height="0.8" fill="#333"/>
<rect x="415.30" y="685.60" width="3.3" height="106.10" fill="#4e5a8a"/>
<rect x="416.60" y="677.27" width="0.7" height="8.33" fill="#444"/>
<rect x="415.75" y="676.97" width="2.4" height="0.8" fill="#333"/>
<rect x="419.85" y="686.16" width="3.3" height="105.54" fill="#0a3a6a"/>
<rect x="421.15" y="676.16" width="0.7" height="10.00" fill="#444"/>
<rect x="420.30" y="675.86" width="2.4" height="0.8" fill="#333"/>
<rect x="427.80" y="680.60" width="3.3" height="111.10" fill="#3a4252"/>
<rect x="432.35" y="742.82" width="3.3" height="48.88" fill="#c5c8dc"/>
<rect x="433.65" y="738.37" width="0.7" height="4.44" fill="#444"/>
<rect x="432.80" y="738.07" width="2.4" height="0.8" fill="#333"/>
<rect x="436.90" y="749.48" width="3.3" height="42.22" fill="#8e95b8"/>
<rect x="438.20" y="746.15" width="0.7" height="3.33" fill="#444"/>
<rect x="437.35" y="745.85" width="2.4" height="0.8" fill="#333"/>
<rect x="441.45" y="755.04" width="3.3" height="36.66" fill="#4e5a8a"/>
<rect x="442.75" y="748.37" width="0.7" height="6.67" fill="#444"/>
<rect x="441.90" y="748.07" width="2.4" height="0.8" fill="#333"/>
<rect x="446.00" y="735.04" width="3.3" height="56.66" fill="#0a3a6a"/>
<rect x="447.30" y="729.48" width="0.7" height="5.55" fill="#444"/>
<rect x="446.45" y="729.18" width="2.4" height="0.8" fill="#333"/>
<rect x="59.85" y="633.16" width="1.1" height="159.14" fill="#1e1e1e"/>
<rect x="59.85" y="791.20" width="391.35" height="1.1" fill="#1e1e1e"/>
<rect x="56.4" y="791.20" width="3.70" height="1" fill="#222"/>
<text x="52.5" y="794.80" font-size="10.6" fill="#2a2a2a" stroke="#2a2a2a" stroke-width="0.12" text-anchor="end" textLength="13.2" lengthAdjust="spacingAndGlyphs">0.0</text>
<rect x="56.4" y="768.98" width="3.70" height="1" fill="#222"/>
<text x="52.5" y="772.58" font-size="10.6" fill="#2a2a2a" stroke="#2a2a2a" stroke-width="0.12" text-anchor="end" textLength="13.2" lengthAdjust="spacingAndGlyphs">0.2</text>
<rect x="56.4" y="746.76" width="3.70" height="1" fill="#222"/>
<text x="52.5" y="750.36" font-size="10.6" fill="#2a2a2a" stroke="#2a2a2a" stroke-width="0.12" text-anchor="end" textLength="13.2" lengthAdjust="spacingAndGlyphs">0.4</text>
<rect x="56.4" y="724.54" width="3.70" height="1" fill="#222"/>
<text x="52.5" y="728.14" font-size="10.6" fill="#2a2a2a" stroke="#2a2a2a" stroke-width="0.12" text-anchor="end" textLength="13.2" lengthAdjust="spacingAndGlyphs">0.6</text>
<rect x="56.4" y="702.32" width="3.70" height="1" fill="#222"/>
<text x="52.5" y="705.92" font-size="10.6" fill="#2a2a2a" stroke="#2a2a2a" stroke-width="0.12" text-anchor="end" textLength="13.2" lengthAdjust="spacingAndGlyphs">0.8</text>
<rect x="56.4" y="680.10" width="3.70" height="1" fill="#222"/>
<text x="52.5" y="683.70" font-size="10.6" fill="#2a2a2a" stroke="#2a2a2a" stroke-width="0.12" text-anchor="end" textLength="13.2" lengthAdjust="spacingAndGlyphs">1.0</text>
<rect x="56.4" y="657.88" width="3.70" height="1" fill="#222"/>
<text x="52.5" y="661.48" font-size="10.6" fill="#2a2a2a" stroke="#2a2a2a" stroke-width="0.12" text-anchor="end" textLength="13.2" lengthAdjust="spacingAndGlyphs">1.2</text>
<rect x="56.4" y="635.66" width="3.70" height="1" fill="#222"/>
<text x="52.5" y="639.26" font-size="10.6" fill="#2a2a2a" stroke="#2a2a2a" stroke-width="0.12" text-anchor="end" textLength="13.2" lengthAdjust="spacingAndGlyphs">1.4</text>
<rect x="71.95" y="791.70" width="1" height="3.6" fill="#222"/>
<g transform="translate(76.15,804.40) rotate(-45)"><text x="0" y="0" font-size="9.9" fill="#222" stroke="#222" stroke-width="0.15" text-anchor="end">p.D50H</text></g>
<rect x="98.10" y="791.70" width="1" height="3.6" fill="#222"/>
<g transform="translate(102.30,804.40) rotate(-45)"><text x="0" y="0" font-size="9.9" fill="#222" stroke="#222" stroke-width="0.15" text-anchor="end">p.A143V</text></g>
<rect x="124.25" y="791.70" width="1" height="3.6" fill="#222"/>
<g transform="translate(128.45,804.40) rotate(-45)"><text x="0" y="0" font-size="9.9" fill="#222" stroke="#222" stroke-width="0.15" text-anchor="end">p.L190F</text></g>
<rect x="150.40" y="791.70" width="1" height="3.6" fill="#222"/>
<g transform="translate(154.60,804.40) rotate(-45)"><text x="0" y="0" font-size="9.9" fill="#222" stroke="#222" stroke-width="0.15" text-anchor="end">p.R283K</text></g>
<rect x="176.55" y="791.70" width="1" height="3.6" fill="#222"/>
<g transform="translate(180.75,804.40) rotate(-45)"><text x="0" y="0" font-size="9.9" fill="#222" stroke="#222" stroke-width="0.15" text-anchor="end">p.C326G</text></g>
<rect x="202.70" y="791.70" width="1" height="3.6" fill="#222"/>
<g transform="translate(206.90,804.40) rotate(-45)"><text x="0" y="0" font-size="9.9" fill="#222" stroke="#222" stroke-width="0.15" text-anchor="end">p.A347V</text></g>
<rect x="228.85" y="791.70" width="1" height="3.6" fill="#222"/>
<g transform="translate(233.05,804.40) rotate(-45)"><text x="0" y="0" font-size="9.9" fill="#222" stroke="#222" stroke-width="0.15" text-anchor="end">p.P352S</text></g>
<rect x="255.00" y="791.70" width="1" height="3.6" fill="#222"/>
<g transform="translate(259.20,804.40) rotate(-45)"><text x="0" y="0" font-size="9.9" fill="#222" stroke="#222" stroke-width="0.15" text-anchor="end">p.C366Y</text></g>
<rect x="281.15" y="791.70" width="1" height="3.6" fill="#222"/>
<g transform="translate(285.35,804.40) rotate(-45)"><text x="0" y="0" font-size="9.9" fill="#222" stroke="#222" stroke-width="0.15" text-anchor="end">p.F381S</text></g>
<rect x="307.30" y="791.70" width="1" height="3.6" fill="#222"/>
<g transform="translate(311.50,804.40) rotate(-45)"><text x="0" y="0" font-size="9.9" fill="#222" stroke="#222" stroke-width="0.15" text-anchor="end">p.W386A</text></g>
<rect x="333.45" y="791.70" width="1" height="3.6" fill="#222"/>
<g transform="translate(337.65,804.40) rotate(-45)"><text x="0" y="0" font-size="9.9" fill="#222" stroke="#222" stroke-width="0.15" text-anchor="end">p.H397Y</text></g>
<rect x="359.60" y="791.70" width="1" height="3.6" fill="#222"/>
<g transform="translate(363.80,804.40) rotate(-45)"><text x="0" y="0" font-size="9.9" fill="#222" stroke="#222" stroke-width="0.15" text-anchor="end">p.W415G</text></g>
<rect x="385.75" y="791.70" width="1" height="3.6" fill="#222"/>
<g transform="translate(389.95,804.40) rotate(-45)"><text x="-10.2" y="0" font-size="9.9" fill="#222" stroke="#222" stroke-width="0.15" text-anchor="end">CRBN</text><text x="0" y="-3.6" font-size="7.0" fill="#222" stroke="#222" stroke-width="0.1" text-anchor="end">WT</text></g>
<rect x="411.90" y="791.70" width="1" height="3.6" fill="#222"/>
<g transform="translate(416.10,804.40) rotate(-45)"><text x="0" y="0" font-size="9.9" fill="#222" stroke="#222" stroke-width="0.15" text-anchor="end">EV</text></g>
<rect x="438.05" y="791.70" width="1" height="3.6" fill="#222"/>
<g transform="translate(442.25,804.40) rotate(-45)"><text x="0" y="0" font-size="9.9" fill="#222" stroke="#222" stroke-width="0.15" text-anchor="end">MM1.s</text></g>
<text transform="translate(21.8,717.3) rotate(-90)" x="0" y="0" font-size="10.4" fill="#222" stroke="#222" stroke-width="0.12" text-anchor="middle" textLength="96.1" lengthAdjust="spacingAndGlyphs">IRF4 mRNA fold change</text>
<text transform="translate(33.0,717.3) rotate(-90)" x="0" y="0" font-size="7.8" fill="#222" text-anchor="middle" textLength="74" lengthAdjust="spacingAndGlyphs">(normalized to MM1.s)</text>
<text x="210.8" y="854.7" font-size="11.2" fill="#222" textLength="28.8" lengthAdjust="spacingAndGlyphs">MM1.s</text>
<text x="239.8" y="850.0" font-size="8.2" fill="#222" textLength="27.3" lengthAdjust="spacingAndGlyphs">CRBNKO</text>
<text x="269.8" y="854.7" font-size="11.0" fill="#222" textLength="29.6" lengthAdjust="spacingAndGlyphs">Clone 1</text>
<rect x="466.9" y="696.0" width="10.2" height="4.4" fill="#4a5664" stroke="#2a3039" stroke-width="0.9"/>
<text x="481.6" y="701.1" font-size="8.4" fill="#222" textLength="27.2" lengthAdjust="spacingAndGlyphs">DMSO</text>
<rect x="466.9" y="710.0" width="10.2" height="4.4" fill="#c9cbe0" stroke="#aeb2cc" stroke-width="0.9"/>
<text x="481.6" y="715.1" font-size="8.4" fill="#222" textLength="15.8" lengthAdjust="spacingAndGlyphs">LEN</text>
<rect x="466.9" y="724.0" width="10.2" height="4.4" fill="#949dc8" stroke="#7880a8" stroke-width="0.9"/>
<text x="481.6" y="729.1" font-size="8.4" fill="#222" textLength="20.5" lengthAdjust="spacingAndGlyphs">POM</text>
<rect x="466.9" y="738.0" width="10.2" height="4.4" fill="#5771a8" stroke="#3b4a7e" stroke-width="0.9"/>
<text x="481.6" y="743.1" font-size="8.4" fill="#222" textLength="16.8" lengthAdjust="spacingAndGlyphs">IBER</text>
<rect x="466.9" y="752.0" width="10.2" height="4.4" fill="#174f8e" stroke="#0a3262" stroke-width="0.9"/>
<text x="481.6" y="757.1" font-size="8.4" fill="#222" textLength="20.6" lengthAdjust="spacingAndGlyphs">MEZI</text>
<rect x="0" y="0" width="520" height="1" fill="#3a3a3a"/><rect x="0" y="0" width="1" height="866" fill="#444"/><rect x="518.9" y="0" width="1.1" height="866" fill="#444"/><rect x="0" y="864.9" width="520" height="1.1" fill="#3a3a3a"/>
</svg>
</body></html>
